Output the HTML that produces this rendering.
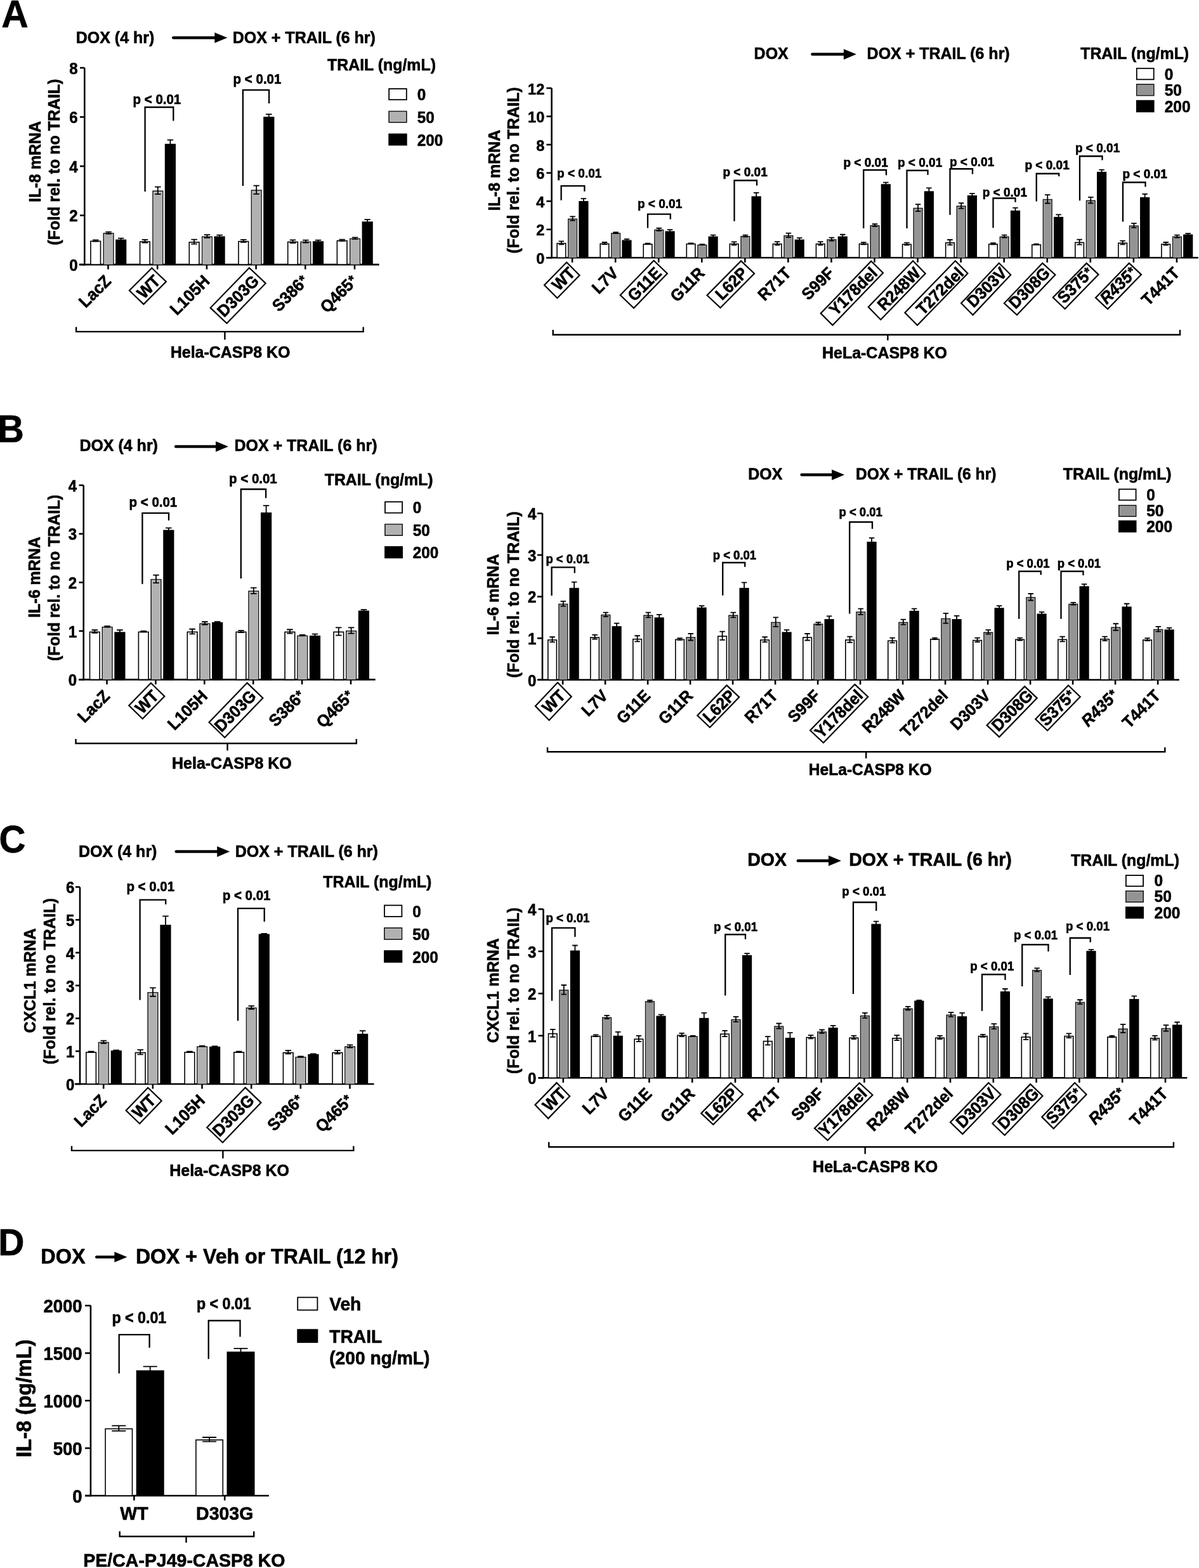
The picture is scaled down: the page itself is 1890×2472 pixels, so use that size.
<!DOCTYPE html><html><head><meta charset="utf-8"><title>Figure</title><style>html,body{margin:0;padding:0;background:#fff;}svg{display:block;}text{font-family:"Liberation Sans",Arial,Helvetica,sans-serif;font-weight:bold;fill:#000;stroke:#000;stroke-width:0.6px;stroke-linejoin:round;}</style></head><body>
<svg width="1890" height="2472" viewBox="0 0 1890 2472">
<rect x="0" y="0" width="1890" height="2472" fill="#fff"/>
<text transform="translate(2.20,43.20) scale(1,1.045)" font-size="59" text-anchor="start">A</text>
<text transform="translate(-4.00,697.00) scale(1,1.045)" font-size="58" text-anchor="start">B</text>
<text transform="translate(-1.50,1344.00) scale(1,1.045)" font-size="58" text-anchor="start">C</text>
<text transform="translate(-2.80,1979.30) scale(1,1.045)" font-size="57" text-anchor="start">D</text>
<line x1="133.30" y1="107.00" x2="133.30" y2="418.40" stroke="#000" stroke-width="2.6" stroke-linecap="butt"/>
<line x1="126.00" y1="417.10" x2="133.30" y2="417.10" stroke="#000" stroke-width="2.6" stroke-linecap="butt"/>
<text transform="translate(122.50,426.94) scale(1,1.045)" font-size="24" text-anchor="end">0</text>
<line x1="126.00" y1="339.56" x2="133.30" y2="339.56" stroke="#000" stroke-width="2.6" stroke-linecap="butt"/>
<text transform="translate(122.50,349.40) scale(1,1.045)" font-size="24" text-anchor="end">2</text>
<line x1="126.00" y1="262.02" x2="133.30" y2="262.02" stroke="#000" stroke-width="2.6" stroke-linecap="butt"/>
<text transform="translate(122.50,271.86) scale(1,1.045)" font-size="24" text-anchor="end">4</text>
<line x1="126.00" y1="184.48" x2="133.30" y2="184.48" stroke="#000" stroke-width="2.6" stroke-linecap="butt"/>
<text transform="translate(122.50,194.32) scale(1,1.045)" font-size="24" text-anchor="end">6</text>
<line x1="126.00" y1="106.94" x2="133.30" y2="106.94" stroke="#000" stroke-width="2.6" stroke-linecap="butt"/>
<text transform="translate(122.50,116.78) scale(1,1.045)" font-size="24" text-anchor="end">8</text>
<line x1="124.80" y1="417.10" x2="597.60" y2="417.10" stroke="#000" stroke-width="2.6" stroke-linecap="butt"/>
<line x1="170.50" y1="417.10" x2="170.50" y2="424.60" stroke="#000" stroke-width="2.6" stroke-linecap="butt"/>
<line x1="248.20" y1="417.10" x2="248.20" y2="424.60" stroke="#000" stroke-width="2.6" stroke-linecap="butt"/>
<line x1="325.90" y1="417.10" x2="325.90" y2="424.60" stroke="#000" stroke-width="2.6" stroke-linecap="butt"/>
<line x1="403.60" y1="417.10" x2="403.60" y2="424.60" stroke="#000" stroke-width="2.6" stroke-linecap="butt"/>
<line x1="481.30" y1="417.10" x2="481.30" y2="424.60" stroke="#000" stroke-width="2.6" stroke-linecap="butt"/>
<line x1="559.00" y1="417.10" x2="559.00" y2="424.60" stroke="#000" stroke-width="2.6" stroke-linecap="butt"/>
<rect x="142.90" y="380.29" width="15.60" height="36.81" fill="#fff" stroke="#000" stroke-width="1.6"/>
<path d="M150.70,378.33V380.66M145.95,378.33H155.45M145.95,380.66H155.45" stroke="#000" stroke-width="1.8" fill="none"/>
<rect x="163.30" y="367.89" width="15.60" height="49.21" fill="#b1b1b1" stroke="#1c1c1c" stroke-width="1.6"/>
<rect x="164.55" y="369.14" width="13.10" height="46.91" fill="none" stroke="#c2c2c2" stroke-width="0.9"/>
<path d="M171.10,365.54V368.64M166.35,365.54H175.85M166.35,368.64H175.85" stroke="#000" stroke-width="1.8" fill="none"/>
<rect x="182.90" y="378.35" width="15.60" height="38.75" fill="#000" stroke="#000" stroke-width="1.6"/>
<path d="M190.70,375.62V379.49M185.95,375.62H195.45M185.95,379.49H195.45" stroke="#000" stroke-width="1.8" fill="none"/>
<rect x="220.60" y="381.07" width="15.60" height="36.03" fill="#fff" stroke="#000" stroke-width="1.6"/>
<path d="M228.40,377.94V382.59M223.65,377.94H233.15M223.65,382.59H233.15" stroke="#000" stroke-width="1.8" fill="none"/>
<rect x="241.00" y="301.20" width="15.60" height="115.90" fill="#b1b1b1" stroke="#1c1c1c" stroke-width="1.6"/>
<rect x="242.25" y="302.45" width="13.10" height="113.60" fill="none" stroke="#c2c2c2" stroke-width="0.9"/>
<path d="M248.80,294.59V306.22M244.05,294.59H253.55M244.05,306.22H253.55" stroke="#000" stroke-width="1.8" fill="none"/>
<rect x="260.60" y="227.54" width="15.60" height="189.56" fill="#000" stroke="#000" stroke-width="1.6"/>
<path d="M268.40,220.54V232.94M263.65,220.54H273.15M263.65,232.94H273.15" stroke="#000" stroke-width="1.8" fill="none"/>
<rect x="298.30" y="381.84" width="15.60" height="35.26" fill="#fff" stroke="#000" stroke-width="1.6"/>
<path d="M306.10,377.55V384.53M301.35,377.55H310.85M301.35,384.53H310.85" stroke="#000" stroke-width="1.8" fill="none"/>
<rect x="318.70" y="373.31" width="15.60" height="43.79" fill="#b1b1b1" stroke="#1c1c1c" stroke-width="1.6"/>
<rect x="319.95" y="374.56" width="13.10" height="41.49" fill="none" stroke="#c2c2c2" stroke-width="0.9"/>
<path d="M326.50,370.19V374.84M321.75,370.19H331.25M321.75,374.84H331.25" stroke="#000" stroke-width="1.8" fill="none"/>
<rect x="338.30" y="373.31" width="15.60" height="43.79" fill="#000" stroke="#000" stroke-width="1.6"/>
<path d="M346.10,370.58V374.45M341.35,370.58H350.85M341.35,374.45H350.85" stroke="#000" stroke-width="1.8" fill="none"/>
<rect x="376.00" y="380.68" width="15.60" height="36.42" fill="#fff" stroke="#000" stroke-width="1.6"/>
<path d="M383.80,377.94V381.82M379.05,377.94H388.55M379.05,381.82H388.55" stroke="#000" stroke-width="1.8" fill="none"/>
<rect x="396.40" y="300.04" width="15.60" height="117.06" fill="#b1b1b1" stroke="#1c1c1c" stroke-width="1.6"/>
<rect x="397.65" y="301.29" width="13.10" height="114.76" fill="none" stroke="#c2c2c2" stroke-width="0.9"/>
<path d="M404.20,292.65V305.83M399.45,292.65H408.95M399.45,305.83H408.95" stroke="#000" stroke-width="1.8" fill="none"/>
<rect x="416.00" y="184.89" width="15.60" height="232.21" fill="#000" stroke="#000" stroke-width="1.6"/>
<path d="M423.80,180.22V187.97M419.05,180.22H428.55M419.05,187.97H428.55" stroke="#000" stroke-width="1.8" fill="none"/>
<rect x="453.70" y="381.46" width="15.60" height="35.64" fill="#fff" stroke="#000" stroke-width="1.6"/>
<path d="M461.50,378.33V382.98M456.75,378.33H466.25M456.75,382.98H466.25" stroke="#000" stroke-width="1.8" fill="none"/>
<rect x="474.10" y="381.46" width="15.60" height="35.64" fill="#b1b1b1" stroke="#1c1c1c" stroke-width="1.6"/>
<rect x="475.35" y="382.71" width="13.10" height="33.34" fill="none" stroke="#c2c2c2" stroke-width="0.9"/>
<path d="M481.90,378.72V382.59M477.15,378.72H486.65M477.15,382.59H486.65" stroke="#000" stroke-width="1.8" fill="none"/>
<rect x="493.70" y="381.07" width="15.60" height="36.03" fill="#000" stroke="#000" stroke-width="1.6"/>
<path d="M501.50,378.72V381.82M496.75,378.72H506.25M496.75,381.82H506.25" stroke="#000" stroke-width="1.8" fill="none"/>
<rect x="531.40" y="379.52" width="15.60" height="37.58" fill="#fff" stroke="#000" stroke-width="1.6"/>
<path d="M539.20,377.55V379.88M534.45,377.55H543.95M534.45,379.88H543.95" stroke="#000" stroke-width="1.8" fill="none"/>
<rect x="551.80" y="376.42" width="15.60" height="40.68" fill="#b1b1b1" stroke="#1c1c1c" stroke-width="1.6"/>
<rect x="553.05" y="377.67" width="13.10" height="38.38" fill="none" stroke="#c2c2c2" stroke-width="0.9"/>
<path d="M559.60,374.45V376.78M554.85,374.45H564.35M554.85,376.78H564.35" stroke="#000" stroke-width="1.8" fill="none"/>
<rect x="571.40" y="350.05" width="15.60" height="67.05" fill="#000" stroke="#000" stroke-width="1.6"/>
<path d="M579.20,346.15V352.35M574.45,346.15H583.95M574.45,352.35H583.95" stroke="#000" stroke-width="1.8" fill="none"/>
<g transform="translate(170.00,438.10) rotate(-45)">
<text transform="translate(0,9.48) scale(1,1.045)" font-size="25.2" text-anchor="end">LacZ</text>
</g>
<g transform="translate(247.70,438.10) rotate(-45)">
<text transform="translate(0,9.48) scale(1,1.045)" font-size="25.2" text-anchor="end">WT</text>
</g>
<g transform="translate(325.40,438.10) rotate(-45)">
<text transform="translate(0,9.48) scale(1,1.045)" font-size="25.2" text-anchor="end">L105H</text>
</g>
<g transform="translate(403.10,438.10) rotate(-45)">
<text transform="translate(0,9.48) scale(1,1.045)" font-size="25.2" text-anchor="end">D303G</text>
</g>
<g transform="translate(480.80,438.10) rotate(-45)">
<text transform="translate(0,9.48) scale(1,1.045)" font-size="25.2" text-anchor="end">S386<tspan dx="0.8" dy="-2.5" font-size="20.66">*</tspan></text>
</g>
<g transform="translate(558.50,438.10) rotate(-45)">
<text transform="translate(0,9.48) scale(1,1.045)" font-size="25.2" text-anchor="end">Q465<tspan dx="0.8" dy="-2.5" font-size="20.66">*</tspan></text>
</g>
<polygon points="239.30,422.49 261.81,444.03 226.40,479.61 203.89,458.07" fill="none" stroke="#000" stroke-width="2.2" stroke-linejoin="miter"/>
<polygon points="392.91,422.30 418.72,446.65 357.49,509.70 331.68,485.35" fill="none" stroke="#000" stroke-width="2.2" stroke-linejoin="miter"/>
<polyline points="228.60,301.90 228.60,169.00 273.30,169.00 273.30,190.50" fill="none" stroke="#000" stroke-width="2.3" stroke-linejoin="miter"/>
<text transform="translate(209.50,164.30) scale(1,1.09)" font-size="20.5" text-anchor="start">p &lt; 0.01</text>
<polyline points="382.90,293.00 382.90,141.90 424.10,141.90 424.10,163.00" fill="none" stroke="#000" stroke-width="2.3" stroke-linejoin="miter"/>
<text transform="translate(367.60,132.30) scale(1,1.09)" font-size="20.5" text-anchor="start">p &lt; 0.01</text>
<text transform="translate(516.00,111.40) scale(1,1.045)" font-size="24.9" text-anchor="start">TRAIL (ng/mL)</text>
<rect x="613.20" y="140.00" width="27.60" height="17.20" fill="#fff" stroke="#000" stroke-width="1.8"/>
<text transform="translate(657.70,157.90) scale(1,1.045)" font-size="24.3" text-anchor="start">0</text>
<rect x="613.20" y="175.60" width="27.60" height="17.20" fill="#b1b1b1" stroke="#1c1c1c" stroke-width="1.8"/>
<rect x="614.60" y="177.00" width="24.80" height="14.40" fill="none" stroke="#c2c2c2" stroke-width="1"/>
<text transform="translate(657.70,194.30) scale(1,1.045)" font-size="24.3" text-anchor="start">50</text>
<rect x="613.20" y="211.40" width="27.60" height="17.20" fill="#000" stroke="#000" stroke-width="1.8"/>
<text transform="translate(657.70,230.20) scale(1,1.045)" font-size="24.3" text-anchor="start">200</text>
<text transform="translate(64.20,254.80) rotate(-90) scale(1,1.045)" font-size="25" text-anchor="middle">IL-8 mRNA</text>
<text transform="translate(94.10,255.50) rotate(-90) scale(1,1.045)" font-size="25" text-anchor="middle">(Fold rel. to no TRAIL)</text>
<text transform="translate(119.80,68.30) scale(1,1.045)" font-size="25" text-anchor="start">DOX (4 hr)</text>
<line x1="273.25" y1="59.50" x2="339.30" y2="59.50" stroke="#000" stroke-width="4.5" stroke-linecap="round"/>
<polygon points="338.30,51.20 358.30,59.50 338.30,67.80" fill="#000"/>
<text transform="translate(366.80,68.30) scale(1,1.045)" font-size="25" text-anchor="start">DOX + TRAIL (6 hr)</text>
<polyline points="120.10,515.50 120.10,522.90 572.70,522.90 572.70,515.50" fill="none" stroke="#000" stroke-width="2.4" stroke-linejoin="miter"/>
<line x1="354.40" y1="522.90" x2="354.40" y2="535.50" stroke="#000" stroke-width="2.4" stroke-linecap="butt"/>
<text transform="translate(363.10,564.00) scale(1,1.045)" font-size="25" text-anchor="middle">Hela-CASP8 KO</text>
<line x1="869.60" y1="138.90" x2="869.60" y2="407.60" stroke="#000" stroke-width="2.6" stroke-linecap="butt"/>
<line x1="861.40" y1="406.30" x2="869.60" y2="406.30" stroke="#000" stroke-width="2.6" stroke-linecap="butt"/>
<text transform="translate(858.20,415.96) scale(1,1.045)" font-size="23.5" text-anchor="end">0</text>
<line x1="861.40" y1="361.74" x2="869.60" y2="361.74" stroke="#000" stroke-width="2.6" stroke-linecap="butt"/>
<text transform="translate(858.20,371.40) scale(1,1.045)" font-size="23.5" text-anchor="end">2</text>
<line x1="861.40" y1="317.18" x2="869.60" y2="317.18" stroke="#000" stroke-width="2.6" stroke-linecap="butt"/>
<text transform="translate(858.20,326.84) scale(1,1.045)" font-size="23.5" text-anchor="end">4</text>
<line x1="861.40" y1="272.62" x2="869.60" y2="272.62" stroke="#000" stroke-width="2.6" stroke-linecap="butt"/>
<text transform="translate(858.20,282.28) scale(1,1.045)" font-size="23.5" text-anchor="end">6</text>
<line x1="861.40" y1="228.06" x2="869.60" y2="228.06" stroke="#000" stroke-width="2.6" stroke-linecap="butt"/>
<text transform="translate(858.20,237.72) scale(1,1.045)" font-size="23.5" text-anchor="end">8</text>
<line x1="861.40" y1="183.50" x2="869.60" y2="183.50" stroke="#000" stroke-width="2.6" stroke-linecap="butt"/>
<text transform="translate(858.20,193.16) scale(1,1.045)" font-size="23.5" text-anchor="end">10</text>
<line x1="861.40" y1="138.94" x2="869.60" y2="138.94" stroke="#000" stroke-width="2.6" stroke-linecap="butt"/>
<text transform="translate(858.20,148.60) scale(1,1.045)" font-size="23.5" text-anchor="end">12</text>
<line x1="861.00" y1="406.30" x2="1888.80" y2="406.30" stroke="#000" stroke-width="2.6" stroke-linecap="butt"/>
<line x1="902.10" y1="406.30" x2="902.10" y2="413.80" stroke="#000" stroke-width="2.6" stroke-linecap="butt"/>
<line x1="970.16" y1="406.30" x2="970.16" y2="413.80" stroke="#000" stroke-width="2.6" stroke-linecap="butt"/>
<line x1="1038.22" y1="406.30" x2="1038.22" y2="413.80" stroke="#000" stroke-width="2.6" stroke-linecap="butt"/>
<line x1="1106.28" y1="406.30" x2="1106.28" y2="413.80" stroke="#000" stroke-width="2.6" stroke-linecap="butt"/>
<line x1="1174.34" y1="406.30" x2="1174.34" y2="413.80" stroke="#000" stroke-width="2.6" stroke-linecap="butt"/>
<line x1="1242.40" y1="406.30" x2="1242.40" y2="413.80" stroke="#000" stroke-width="2.6" stroke-linecap="butt"/>
<line x1="1310.46" y1="406.30" x2="1310.46" y2="413.80" stroke="#000" stroke-width="2.6" stroke-linecap="butt"/>
<line x1="1378.52" y1="406.30" x2="1378.52" y2="413.80" stroke="#000" stroke-width="2.6" stroke-linecap="butt"/>
<line x1="1446.58" y1="406.30" x2="1446.58" y2="413.80" stroke="#000" stroke-width="2.6" stroke-linecap="butt"/>
<line x1="1514.64" y1="406.30" x2="1514.64" y2="413.80" stroke="#000" stroke-width="2.6" stroke-linecap="butt"/>
<line x1="1582.70" y1="406.30" x2="1582.70" y2="413.80" stroke="#000" stroke-width="2.6" stroke-linecap="butt"/>
<line x1="1650.76" y1="406.30" x2="1650.76" y2="413.80" stroke="#000" stroke-width="2.6" stroke-linecap="butt"/>
<line x1="1718.82" y1="406.30" x2="1718.82" y2="413.80" stroke="#000" stroke-width="2.6" stroke-linecap="butt"/>
<line x1="1786.88" y1="406.30" x2="1786.88" y2="413.80" stroke="#000" stroke-width="2.6" stroke-linecap="butt"/>
<line x1="1854.94" y1="406.30" x2="1854.94" y2="413.80" stroke="#000" stroke-width="2.6" stroke-linecap="butt"/>
<rect x="878.10" y="383.71" width="13.60" height="22.59" fill="#fff" stroke="#000" stroke-width="1.6"/>
<path d="M884.90,380.46V385.36M880.65,380.46H889.15M880.65,385.36H889.15" stroke="#000" stroke-width="1.8" fill="none"/>
<rect x="895.80" y="345.38" width="13.60" height="60.92" fill="#949494" stroke="#1c1c1c" stroke-width="1.6"/>
<rect x="897.05" y="346.63" width="11.10" height="58.62" fill="none" stroke="#a6a6a6" stroke-width="0.9"/>
<path d="M902.60,341.47V347.70M898.35,341.47H906.85M898.35,347.70H906.85" stroke="#000" stroke-width="1.8" fill="none"/>
<rect x="913.10" y="317.76" width="13.60" height="88.54" fill="#000" stroke="#000" stroke-width="1.6"/>
<path d="M919.90,313.17V320.74M915.65,313.17H924.15M915.65,320.74H924.15" stroke="#000" stroke-width="1.8" fill="none"/>
<rect x="946.16" y="384.37" width="13.60" height="21.93" fill="#fff" stroke="#000" stroke-width="1.6"/>
<path d="M952.96,382.01V385.13M948.71,382.01H957.21M948.71,385.13H957.21" stroke="#000" stroke-width="1.8" fill="none"/>
<rect x="963.86" y="367.89" width="13.60" height="38.41" fill="#949494" stroke="#1c1c1c" stroke-width="1.6"/>
<rect x="965.11" y="369.14" width="11.10" height="36.11" fill="none" stroke="#a6a6a6" stroke-width="0.9"/>
<path d="M970.66,366.20V367.98M966.41,366.20H974.91M966.41,367.98H974.91" stroke="#000" stroke-width="1.8" fill="none"/>
<rect x="981.16" y="379.25" width="13.60" height="27.05" fill="#000" stroke="#000" stroke-width="1.6"/>
<path d="M987.96,376.89V380.01M983.71,376.89H992.21M983.71,380.01H992.21" stroke="#000" stroke-width="1.8" fill="none"/>
<rect x="1014.22" y="385.04" width="13.60" height="21.26" fill="#fff" stroke="#000" stroke-width="1.6"/>
<path d="M1021.02,383.57V384.91M1016.77,383.57H1025.27M1016.77,384.91H1025.27" stroke="#000" stroke-width="1.8" fill="none"/>
<rect x="1031.92" y="362.54" width="13.60" height="43.76" fill="#949494" stroke="#1c1c1c" stroke-width="1.6"/>
<rect x="1033.17" y="363.79" width="11.10" height="41.46" fill="none" stroke="#a6a6a6" stroke-width="0.9"/>
<path d="M1038.72,359.73V363.75M1034.47,359.73H1042.97M1034.47,363.75H1042.97" stroke="#000" stroke-width="1.8" fill="none"/>
<rect x="1049.22" y="365.21" width="13.60" height="41.09" fill="#000" stroke="#000" stroke-width="1.6"/>
<path d="M1056.02,362.19V366.64M1051.77,362.19H1060.27M1051.77,366.64H1060.27" stroke="#000" stroke-width="1.8" fill="none"/>
<rect x="1082.28" y="384.60" width="13.60" height="21.70" fill="#fff" stroke="#000" stroke-width="1.6"/>
<path d="M1089.08,383.35V384.24M1084.83,383.35H1093.33M1084.83,384.24H1093.33" stroke="#000" stroke-width="1.8" fill="none"/>
<rect x="1099.98" y="386.38" width="13.60" height="19.92" fill="#949494" stroke="#1c1c1c" stroke-width="1.6"/>
<rect x="1101.23" y="387.63" width="11.10" height="17.62" fill="none" stroke="#a6a6a6" stroke-width="0.9"/>
<path d="M1106.78,385.13V386.03M1102.53,385.13H1111.03M1102.53,386.03H1111.03" stroke="#000" stroke-width="1.8" fill="none"/>
<rect x="1117.28" y="373.46" width="13.60" height="32.84" fill="#000" stroke="#000" stroke-width="1.6"/>
<path d="M1124.08,370.65V374.66M1119.83,370.65H1128.33M1119.83,374.66H1128.33" stroke="#000" stroke-width="1.8" fill="none"/>
<rect x="1150.34" y="384.60" width="13.60" height="21.70" fill="#fff" stroke="#000" stroke-width="1.6"/>
<path d="M1157.14,381.35V386.25M1152.89,381.35H1161.39M1152.89,386.25H1161.39" stroke="#000" stroke-width="1.8" fill="none"/>
<rect x="1168.04" y="372.79" width="13.60" height="33.51" fill="#949494" stroke="#1c1c1c" stroke-width="1.6"/>
<rect x="1169.29" y="374.04" width="11.10" height="31.21" fill="none" stroke="#a6a6a6" stroke-width="0.9"/>
<path d="M1174.84,370.65V373.33M1170.59,370.65H1179.09M1170.59,373.33H1179.09" stroke="#000" stroke-width="1.8" fill="none"/>
<rect x="1185.34" y="310.18" width="13.60" height="96.12" fill="#000" stroke="#000" stroke-width="1.6"/>
<path d="M1192.14,303.81V314.95M1187.89,303.81H1196.39M1187.89,314.95H1196.39" stroke="#000" stroke-width="1.8" fill="none"/>
<rect x="1218.40" y="384.60" width="13.60" height="21.70" fill="#fff" stroke="#000" stroke-width="1.6"/>
<path d="M1225.20,381.12V386.47M1220.95,381.12H1229.45M1220.95,386.47H1229.45" stroke="#000" stroke-width="1.8" fill="none"/>
<rect x="1236.10" y="371.67" width="13.60" height="34.63" fill="#949494" stroke="#1c1c1c" stroke-width="1.6"/>
<rect x="1237.35" y="372.92" width="11.10" height="32.33" fill="none" stroke="#a6a6a6" stroke-width="0.9"/>
<path d="M1242.90,367.53V374.22M1238.65,367.53H1247.15M1238.65,374.22H1247.15" stroke="#000" stroke-width="1.8" fill="none"/>
<rect x="1253.40" y="378.36" width="13.60" height="27.94" fill="#000" stroke="#000" stroke-width="1.6"/>
<path d="M1260.20,375.11V380.01M1255.95,375.11H1264.45M1255.95,380.01H1264.45" stroke="#000" stroke-width="1.8" fill="none"/>
<rect x="1286.46" y="384.60" width="13.60" height="21.70" fill="#fff" stroke="#000" stroke-width="1.6"/>
<path d="M1293.26,381.12V386.47M1289.01,381.12H1297.51M1289.01,386.47H1297.51" stroke="#000" stroke-width="1.8" fill="none"/>
<rect x="1304.16" y="377.91" width="13.60" height="28.39" fill="#949494" stroke="#1c1c1c" stroke-width="1.6"/>
<rect x="1305.41" y="379.16" width="11.10" height="26.09" fill="none" stroke="#a6a6a6" stroke-width="0.9"/>
<path d="M1310.96,374.66V379.56M1306.71,374.66H1315.21M1306.71,379.56H1315.21" stroke="#000" stroke-width="1.8" fill="none"/>
<rect x="1321.46" y="373.46" width="13.60" height="32.84" fill="#000" stroke="#000" stroke-width="1.6"/>
<path d="M1328.26,369.76V375.55M1324.01,369.76H1332.51M1324.01,375.55H1332.51" stroke="#000" stroke-width="1.8" fill="none"/>
<rect x="1354.52" y="384.60" width="13.60" height="21.70" fill="#fff" stroke="#000" stroke-width="1.6"/>
<path d="M1361.32,382.24V385.36M1357.07,382.24H1365.57M1357.07,385.36H1365.57" stroke="#000" stroke-width="1.8" fill="none"/>
<rect x="1372.22" y="355.86" width="13.60" height="50.44" fill="#949494" stroke="#1c1c1c" stroke-width="1.6"/>
<rect x="1373.47" y="357.11" width="11.10" height="48.14" fill="none" stroke="#a6a6a6" stroke-width="0.9"/>
<path d="M1379.02,353.27V356.84M1374.77,353.27H1383.27M1374.77,356.84H1383.27" stroke="#000" stroke-width="1.8" fill="none"/>
<rect x="1389.52" y="291.02" width="13.60" height="115.28" fill="#000" stroke="#000" stroke-width="1.6"/>
<path d="M1396.32,287.55V292.89M1392.07,287.55H1400.57M1392.07,292.89H1400.57" stroke="#000" stroke-width="1.8" fill="none"/>
<rect x="1422.58" y="385.27" width="13.60" height="21.03" fill="#fff" stroke="#000" stroke-width="1.6"/>
<path d="M1429.38,382.68V386.25M1425.13,382.68H1433.63M1425.13,386.25H1433.63" stroke="#000" stroke-width="1.8" fill="none"/>
<rect x="1440.28" y="328.45" width="13.60" height="77.85" fill="#949494" stroke="#1c1c1c" stroke-width="1.6"/>
<rect x="1441.53" y="329.70" width="11.10" height="75.55" fill="none" stroke="#a6a6a6" stroke-width="0.9"/>
<path d="M1447.08,322.08V333.22M1442.83,322.08H1451.33M1442.83,333.22H1451.33" stroke="#000" stroke-width="1.8" fill="none"/>
<rect x="1457.58" y="302.16" width="13.60" height="104.14" fill="#000" stroke="#000" stroke-width="1.6"/>
<path d="M1464.38,296.46V306.26M1460.13,296.46H1468.63M1460.13,306.26H1468.63" stroke="#000" stroke-width="1.8" fill="none"/>
<rect x="1490.64" y="382.81" width="13.60" height="23.49" fill="#fff" stroke="#000" stroke-width="1.6"/>
<path d="M1497.44,378.00V386.03M1493.19,378.00H1501.69M1493.19,386.03H1501.69" stroke="#000" stroke-width="1.8" fill="none"/>
<rect x="1508.34" y="325.11" width="13.60" height="81.19" fill="#949494" stroke="#1c1c1c" stroke-width="1.6"/>
<rect x="1509.59" y="326.36" width="11.10" height="78.89" fill="none" stroke="#a6a6a6" stroke-width="0.9"/>
<path d="M1515.14,320.08V328.54M1510.89,320.08H1519.39M1510.89,328.54H1519.39" stroke="#000" stroke-width="1.8" fill="none"/>
<rect x="1525.64" y="308.85" width="13.60" height="97.45" fill="#000" stroke="#000" stroke-width="1.6"/>
<path d="M1532.44,305.15V310.94M1528.19,305.15H1536.69M1528.19,310.94H1536.69" stroke="#000" stroke-width="1.8" fill="none"/>
<rect x="1558.70" y="385.04" width="13.60" height="21.26" fill="#fff" stroke="#000" stroke-width="1.6"/>
<path d="M1565.50,383.13V385.36M1561.25,383.13H1569.75M1561.25,385.36H1569.75" stroke="#000" stroke-width="1.8" fill="none"/>
<rect x="1576.40" y="373.46" width="13.60" height="32.84" fill="#949494" stroke="#1c1c1c" stroke-width="1.6"/>
<rect x="1577.65" y="374.71" width="11.10" height="30.54" fill="none" stroke="#a6a6a6" stroke-width="0.9"/>
<path d="M1583.20,370.65V374.66M1578.95,370.65H1587.45M1578.95,374.66H1587.45" stroke="#000" stroke-width="1.8" fill="none"/>
<rect x="1593.70" y="332.68" width="13.60" height="73.62" fill="#000" stroke="#000" stroke-width="1.6"/>
<path d="M1600.50,327.65V336.12M1596.25,327.65H1604.75M1596.25,336.12H1604.75" stroke="#000" stroke-width="1.8" fill="none"/>
<rect x="1626.76" y="385.93" width="13.60" height="20.37" fill="#fff" stroke="#000" stroke-width="1.6"/>
<path d="M1633.56,384.69V385.58M1629.31,384.69H1637.81M1629.31,385.58H1637.81" stroke="#000" stroke-width="1.8" fill="none"/>
<rect x="1644.46" y="314.64" width="13.60" height="91.66" fill="#949494" stroke="#1c1c1c" stroke-width="1.6"/>
<rect x="1645.71" y="315.89" width="11.10" height="89.36" fill="none" stroke="#a6a6a6" stroke-width="0.9"/>
<path d="M1651.26,307.15V320.52M1647.01,307.15H1655.51M1647.01,320.52H1655.51" stroke="#000" stroke-width="1.8" fill="none"/>
<rect x="1661.76" y="342.71" width="13.60" height="63.59" fill="#000" stroke="#000" stroke-width="1.6"/>
<path d="M1668.56,338.35V345.48M1664.31,338.35H1672.81M1664.31,345.48H1672.81" stroke="#000" stroke-width="1.8" fill="none"/>
<rect x="1694.82" y="382.37" width="13.60" height="23.93" fill="#fff" stroke="#000" stroke-width="1.6"/>
<path d="M1701.62,377.56V385.58M1697.37,377.56H1705.87M1697.37,385.58H1705.87" stroke="#000" stroke-width="1.8" fill="none"/>
<rect x="1712.52" y="316.42" width="13.60" height="89.88" fill="#949494" stroke="#1c1c1c" stroke-width="1.6"/>
<rect x="1713.77" y="317.67" width="11.10" height="87.58" fill="none" stroke="#a6a6a6" stroke-width="0.9"/>
<path d="M1719.32,310.94V320.30M1715.07,310.94H1723.57M1715.07,320.30H1723.57" stroke="#000" stroke-width="1.8" fill="none"/>
<rect x="1729.82" y="271.64" width="13.60" height="134.66" fill="#000" stroke="#000" stroke-width="1.6"/>
<path d="M1736.62,267.72V273.96M1732.37,267.72H1740.87M1732.37,273.96H1740.87" stroke="#000" stroke-width="1.8" fill="none"/>
<rect x="1762.88" y="383.26" width="13.60" height="23.04" fill="#fff" stroke="#000" stroke-width="1.6"/>
<path d="M1769.68,379.56V385.36M1765.43,379.56H1773.93M1765.43,385.36H1773.93" stroke="#000" stroke-width="1.8" fill="none"/>
<rect x="1780.58" y="356.30" width="13.60" height="50.00" fill="#949494" stroke="#1c1c1c" stroke-width="1.6"/>
<rect x="1781.83" y="357.55" width="11.10" height="47.70" fill="none" stroke="#a6a6a6" stroke-width="0.9"/>
<path d="M1787.38,352.16V358.84M1783.13,352.16H1791.63M1783.13,358.84H1791.63" stroke="#000" stroke-width="1.8" fill="none"/>
<rect x="1797.88" y="311.74" width="13.60" height="94.56" fill="#000" stroke="#000" stroke-width="1.6"/>
<path d="M1804.68,305.82V316.07M1800.43,305.82H1808.93M1800.43,316.07H1808.93" stroke="#000" stroke-width="1.8" fill="none"/>
<rect x="1830.94" y="385.04" width="13.60" height="21.26" fill="#fff" stroke="#000" stroke-width="1.6"/>
<path d="M1837.74,382.01V386.47M1833.49,382.01H1841.99M1833.49,386.47H1841.99" stroke="#000" stroke-width="1.8" fill="none"/>
<rect x="1848.64" y="373.46" width="13.60" height="32.84" fill="#949494" stroke="#1c1c1c" stroke-width="1.6"/>
<rect x="1849.89" y="374.71" width="11.10" height="30.54" fill="none" stroke="#a6a6a6" stroke-width="0.9"/>
<path d="M1855.44,370.65V374.66M1851.19,370.65H1859.69M1851.19,374.66H1859.69" stroke="#000" stroke-width="1.8" fill="none"/>
<rect x="1865.94" y="370.34" width="13.60" height="35.96" fill="#000" stroke="#000" stroke-width="1.6"/>
<path d="M1872.74,368.20V370.87M1868.49,368.20H1876.99M1868.49,370.87H1876.99" stroke="#000" stroke-width="1.8" fill="none"/>
<g transform="translate(901.50,425.60) rotate(-45)">
<text transform="translate(0,9.40) scale(1,1.045)" font-size="25" text-anchor="end">WT</text>
</g>
<g transform="translate(969.56,425.60) rotate(-45)">
<text transform="translate(0,9.40) scale(1,1.045)" font-size="25" text-anchor="end">L7V</text>
</g>
<g transform="translate(1037.62,425.60) rotate(-45)">
<text transform="translate(0,9.40) scale(1,1.045)" font-size="25" text-anchor="end">G11E</text>
</g>
<g transform="translate(1105.68,425.60) rotate(-45)">
<text transform="translate(0,9.40) scale(1,1.045)" font-size="25" text-anchor="end">G11R</text>
</g>
<g transform="translate(1173.74,425.60) rotate(-45)">
<text transform="translate(0,9.40) scale(1,1.045)" font-size="25" text-anchor="end">L62P</text>
</g>
<g transform="translate(1241.80,425.60) rotate(-45)">
<text transform="translate(0,9.40) scale(1,1.045)" font-size="25" text-anchor="end">R71T</text>
</g>
<g transform="translate(1309.86,425.60) rotate(-45)">
<text transform="translate(0,9.40) scale(1,1.045)" font-size="25" text-anchor="end">S99F</text>
</g>
<g transform="translate(1377.92,425.60) rotate(-45)">
<text transform="translate(0,9.40) scale(1,1.045)" font-size="25" text-anchor="end">Y178del</text>
</g>
<g transform="translate(1445.98,425.60) rotate(-45)">
<text transform="translate(0,9.40) scale(1,1.045)" font-size="25" text-anchor="end">R248W</text>
</g>
<g transform="translate(1514.04,425.60) rotate(-45)">
<text transform="translate(0,9.40) scale(1,1.045)" font-size="25" text-anchor="end">T272del</text>
</g>
<g transform="translate(1582.10,425.60) rotate(-45)">
<text transform="translate(0,9.40) scale(1,1.045)" font-size="25" text-anchor="end">D303V</text>
</g>
<g transform="translate(1650.16,425.60) rotate(-45)">
<text transform="translate(0,9.40) scale(1,1.045)" font-size="25" text-anchor="end">D308G</text>
</g>
<g transform="translate(1718.22,425.60) rotate(-45)">
<text transform="translate(0,9.40) scale(1,1.045)" font-size="25" text-anchor="end">S375<tspan dx="0.8" dy="-2.5" font-size="20.50">*</tspan></text>
</g>
<g transform="translate(1786.28,425.60) rotate(-45)">
<text transform="translate(0,9.40) scale(1,1.045)" font-size="25" text-anchor="end" font-style="italic">R435<tspan dx="0.8" dy="-2.5" font-size="20.50">*</tspan></text>
</g>
<g transform="translate(1854.34,425.60) rotate(-45)">
<text transform="translate(0,9.40) scale(1,1.045)" font-size="25" text-anchor="end">T441T</text>
</g>
<polygon points="893.14,413.48 913.53,433.90 878.46,470.02 858.07,449.60" fill="none" stroke="#000" stroke-width="2.2" stroke-linejoin="miter"/>
<polygon points="1030.59,410.79 1051.83,431.17 999.01,485.71 977.77,465.33" fill="none" stroke="#000" stroke-width="2.2" stroke-linejoin="miter"/>
<polygon points="1168.06,411.38 1189.03,431.17 1135.54,485.32 1114.57,465.53" fill="none" stroke="#000" stroke-width="2.2" stroke-linejoin="miter"/>
<polygon points="1373.25,411.68 1391.96,430.30 1312.45,512.72 1293.74,494.10" fill="none" stroke="#000" stroke-width="2.2" stroke-linejoin="miter"/>
<polygon points="1439.12,411.31 1458.61,431.33 1388.28,503.99 1368.79,483.97" fill="none" stroke="#000" stroke-width="2.2" stroke-linejoin="miter"/>
<polygon points="1505.87,411.28 1525.44,430.98 1446.03,512.72 1426.46,493.02" fill="none" stroke="#000" stroke-width="2.2" stroke-linejoin="miter"/>
<polygon points="1574.77,414.84 1593.21,433.31 1533.53,496.56 1515.09,478.09" fill="none" stroke="#000" stroke-width="2.2" stroke-linejoin="miter"/>
<polygon points="1643.29,414.85 1663.39,433.29 1603.01,496.55 1582.91,478.11" fill="none" stroke="#000" stroke-width="2.2" stroke-linejoin="miter"/>
<polygon points="1712.72,414.86 1731.56,432.83 1678.68,486.94 1659.84,468.97" fill="none" stroke="#000" stroke-width="2.2" stroke-linejoin="miter"/>
<polygon points="1779.92,414.87 1798.96,432.83 1746.08,487.33 1727.04,469.37" fill="none" stroke="#000" stroke-width="2.2" stroke-linejoin="miter"/>
<polyline points="884.60,315.70 884.60,293.20 921.40,293.20 921.40,301.80" fill="none" stroke="#000" stroke-width="2.3" stroke-linejoin="miter"/>
<text transform="translate(878.10,280.10) scale(1,1.09)" font-size="19" text-anchor="start">p &lt; 0.01</text>
<polyline points="1021.00,359.60 1021.00,337.60 1056.80,337.60 1056.80,345.70" fill="none" stroke="#000" stroke-width="2.3" stroke-linejoin="miter"/>
<text transform="translate(1005.00,328.30) scale(1,1.09)" font-size="19" text-anchor="start">p &lt; 0.01</text>
<polyline points="1157.50,348.75 1157.50,284.50 1193.00,284.50 1193.00,292.50" fill="none" stroke="#000" stroke-width="2.3" stroke-linejoin="miter"/>
<text transform="translate(1139.50,277.80) scale(1,1.09)" font-size="19" text-anchor="start">p &lt; 0.01</text>
<polyline points="1361.25,360.00 1361.25,268.00 1397.00,268.00 1397.00,276.25" fill="none" stroke="#000" stroke-width="2.3" stroke-linejoin="miter"/>
<text transform="translate(1329.50,262.80) scale(1,1.09)" font-size="19" text-anchor="start">p &lt; 0.01</text>
<polyline points="1429.50,360.00 1429.50,268.75 1462.50,268.75 1462.50,275.75" fill="none" stroke="#000" stroke-width="2.3" stroke-linejoin="miter"/>
<text transform="translate(1415.00,262.80) scale(1,1.09)" font-size="19" text-anchor="start">p &lt; 0.01</text>
<polyline points="1497.50,338.75 1497.50,266.25 1533.00,266.25 1533.00,274.50" fill="none" stroke="#000" stroke-width="2.3" stroke-linejoin="miter"/>
<text transform="translate(1497.00,261.55) scale(1,1.09)" font-size="19" text-anchor="start">p &lt; 0.01</text>
<polyline points="1565.50,359.25 1565.50,312.50 1600.50,312.50 1600.50,318.75" fill="none" stroke="#000" stroke-width="2.3" stroke-linejoin="miter"/>
<text transform="translate(1548.75,310.05) scale(1,1.09)" font-size="19" text-anchor="start">p &lt; 0.01</text>
<polyline points="1633.75,317.50 1633.75,273.75 1669.25,273.75 1669.25,278.00" fill="none" stroke="#000" stroke-width="2.3" stroke-linejoin="miter"/>
<text transform="translate(1615.50,267.05) scale(1,1.09)" font-size="19" text-anchor="start">p &lt; 0.01</text>
<polyline points="1702.00,316.25 1702.00,246.25 1737.50,246.25 1737.50,252.50" fill="none" stroke="#000" stroke-width="2.3" stroke-linejoin="miter"/>
<text transform="translate(1695.00,239.55) scale(1,1.09)" font-size="19" text-anchor="start">p &lt; 0.01</text>
<polyline points="1770.00,349.50 1770.00,287.50 1805.50,287.50 1805.50,294.50" fill="none" stroke="#000" stroke-width="2.3" stroke-linejoin="miter"/>
<text transform="translate(1769.50,280.80) scale(1,1.09)" font-size="19" text-anchor="start">p &lt; 0.01</text>
<text transform="translate(1703.20,92.60) scale(1,1.045)" font-size="24.9" text-anchor="start">TRAIL (ng/mL)</text>
<rect x="1791.80" y="107.80" width="26.90" height="17.50" fill="#fff" stroke="#000" stroke-width="1.8"/>
<text transform="translate(1835.70,125.60) scale(1,1.045)" font-size="24.5" text-anchor="start">0</text>
<rect x="1791.80" y="133.00" width="26.90" height="17.50" fill="#949494" stroke="#1c1c1c" stroke-width="1.8"/>
<rect x="1793.20" y="134.40" width="24.10" height="14.70" fill="none" stroke="#a6a6a6" stroke-width="1"/>
<text transform="translate(1835.70,151.20) scale(1,1.045)" font-size="24.5" text-anchor="start">50</text>
<rect x="1791.80" y="158.70" width="26.90" height="17.50" fill="#000" stroke="#000" stroke-width="1.8"/>
<text transform="translate(1835.70,177.20) scale(1,1.045)" font-size="24.5" text-anchor="start">200</text>
<text transform="translate(787.50,268.50) rotate(-90) scale(1,1.045)" font-size="25" text-anchor="middle">IL-8 mRNA</text>
<text transform="translate(818.10,268.50) rotate(-90) scale(1,1.045)" font-size="25" text-anchor="middle">(Fold rel. to no TRAIL)</text>
<text transform="translate(1188.60,92.90) scale(1,1.045)" font-size="25" text-anchor="start">DOX</text>
<line x1="1280.45" y1="85.60" x2="1330.90" y2="85.60" stroke="#000" stroke-width="4.5" stroke-linecap="round"/>
<polygon points="1329.90,77.30 1349.90,85.60 1329.90,93.90" fill="#000"/>
<text transform="translate(1366.60,92.90) scale(1,1.045)" font-size="25" text-anchor="start">DOX + TRAIL (6 hr)</text>
<polyline points="871.70,520.00 871.70,527.70 1860.00,527.70 1860.00,520.00" fill="none" stroke="#000" stroke-width="2.4" stroke-linejoin="miter"/>
<line x1="1399.40" y1="527.70" x2="1399.40" y2="536.60" stroke="#000" stroke-width="2.4" stroke-linecap="butt"/>
<text transform="translate(1394.50,565.20) scale(1,1.045)" font-size="25" text-anchor="middle">HeLa-CASP8 KO</text>
<line x1="131.70" y1="765.00" x2="131.70" y2="1072.70" stroke="#000" stroke-width="2.6" stroke-linecap="butt"/>
<line x1="124.50" y1="1071.40" x2="131.70" y2="1071.40" stroke="#000" stroke-width="2.6" stroke-linecap="butt"/>
<text transform="translate(121.10,1081.24) scale(1,1.045)" font-size="24" text-anchor="end">0</text>
<line x1="124.50" y1="994.80" x2="131.70" y2="994.80" stroke="#000" stroke-width="2.6" stroke-linecap="butt"/>
<text transform="translate(121.10,1004.64) scale(1,1.045)" font-size="24" text-anchor="end">1</text>
<line x1="124.50" y1="918.20" x2="131.70" y2="918.20" stroke="#000" stroke-width="2.6" stroke-linecap="butt"/>
<text transform="translate(121.10,928.04) scale(1,1.045)" font-size="24" text-anchor="end">2</text>
<line x1="124.50" y1="841.60" x2="131.70" y2="841.60" stroke="#000" stroke-width="2.6" stroke-linecap="butt"/>
<text transform="translate(121.10,851.44) scale(1,1.045)" font-size="24" text-anchor="end">3</text>
<line x1="124.50" y1="765.00" x2="131.70" y2="765.00" stroke="#000" stroke-width="2.6" stroke-linecap="butt"/>
<text transform="translate(121.10,774.84) scale(1,1.045)" font-size="24" text-anchor="end">4</text>
<line x1="124.10" y1="1071.40" x2="591.70" y2="1071.40" stroke="#000" stroke-width="2.6" stroke-linecap="butt"/>
<line x1="168.50" y1="1071.40" x2="168.50" y2="1078.90" stroke="#000" stroke-width="2.6" stroke-linecap="butt"/>
<line x1="245.40" y1="1071.40" x2="245.40" y2="1078.90" stroke="#000" stroke-width="2.6" stroke-linecap="butt"/>
<line x1="322.30" y1="1071.40" x2="322.30" y2="1078.90" stroke="#000" stroke-width="2.6" stroke-linecap="butt"/>
<line x1="399.20" y1="1071.40" x2="399.20" y2="1078.90" stroke="#000" stroke-width="2.6" stroke-linecap="butt"/>
<line x1="476.10" y1="1071.40" x2="476.10" y2="1078.90" stroke="#000" stroke-width="2.6" stroke-linecap="butt"/>
<line x1="553.00" y1="1071.40" x2="553.00" y2="1078.90" stroke="#000" stroke-width="2.6" stroke-linecap="butt"/>
<rect x="141.50" y="996.37" width="15.60" height="75.03" fill="#fff" stroke="#000" stroke-width="1.6"/>
<path d="M149.30,993.27V997.86M144.55,993.27H154.05M144.55,997.86H154.05" stroke="#000" stroke-width="1.8" fill="none"/>
<rect x="161.30" y="988.71" width="15.60" height="82.69" fill="#b1b1b1" stroke="#1c1c1c" stroke-width="1.6"/>
<rect x="162.55" y="989.96" width="13.10" height="80.39" fill="none" stroke="#c2c2c2" stroke-width="0.9"/>
<path d="M169.10,987.14V988.67M164.35,987.14H173.85M164.35,988.67H173.85" stroke="#000" stroke-width="1.8" fill="none"/>
<rect x="181.10" y="997.13" width="15.60" height="74.27" fill="#000" stroke="#000" stroke-width="1.6"/>
<path d="M188.90,993.27V999.40M184.15,993.27H193.65M184.15,999.40H193.65" stroke="#000" stroke-width="1.8" fill="none"/>
<rect x="218.40" y="996.37" width="15.60" height="75.03" fill="#fff" stroke="#000" stroke-width="1.6"/>
<path d="M226.20,994.80V996.33M221.45,994.80H230.95M221.45,996.33H230.95" stroke="#000" stroke-width="1.8" fill="none"/>
<rect x="238.20" y="913.64" width="15.60" height="157.76" fill="#b1b1b1" stroke="#1c1c1c" stroke-width="1.6"/>
<rect x="239.45" y="914.89" width="13.10" height="155.46" fill="none" stroke="#c2c2c2" stroke-width="0.9"/>
<path d="M246.00,906.71V918.97M241.25,906.71H250.75M241.25,918.97H250.75" stroke="#000" stroke-width="1.8" fill="none"/>
<rect x="258.00" y="836.27" width="15.60" height="235.13" fill="#000" stroke="#000" stroke-width="1.6"/>
<path d="M265.80,832.41V838.54M261.05,832.41H270.55M261.05,838.54H270.55" stroke="#000" stroke-width="1.8" fill="none"/>
<rect x="295.30" y="996.37" width="15.60" height="75.03" fill="#fff" stroke="#000" stroke-width="1.6"/>
<path d="M303.10,991.74V999.40M298.35,991.74H307.85M298.35,999.40H307.85" stroke="#000" stroke-width="1.8" fill="none"/>
<rect x="315.10" y="983.34" width="15.60" height="88.06" fill="#b1b1b1" stroke="#1c1c1c" stroke-width="1.6"/>
<rect x="316.35" y="984.59" width="13.10" height="85.76" fill="none" stroke="#c2c2c2" stroke-width="0.9"/>
<path d="M322.90,980.25V984.84M318.15,980.25H327.65M318.15,984.84H327.65" stroke="#000" stroke-width="1.8" fill="none"/>
<rect x="334.90" y="981.81" width="15.60" height="89.59" fill="#000" stroke="#000" stroke-width="1.6"/>
<path d="M342.70,980.25V981.78M337.95,980.25H347.45M337.95,981.78H347.45" stroke="#000" stroke-width="1.8" fill="none"/>
<rect x="372.20" y="996.37" width="15.60" height="75.03" fill="#fff" stroke="#000" stroke-width="1.6"/>
<path d="M380.00,994.03V997.10M375.25,994.03H384.75M375.25,997.10H384.75" stroke="#000" stroke-width="1.8" fill="none"/>
<rect x="392.00" y="932.02" width="15.60" height="139.38" fill="#b1b1b1" stroke="#1c1c1c" stroke-width="1.6"/>
<rect x="393.25" y="933.27" width="13.10" height="137.08" fill="none" stroke="#c2c2c2" stroke-width="0.9"/>
<path d="M399.80,926.63V935.82M395.05,926.63H404.55M395.05,935.82H404.55" stroke="#000" stroke-width="1.8" fill="none"/>
<rect x="411.80" y="808.70" width="15.60" height="262.70" fill="#000" stroke="#000" stroke-width="1.6"/>
<path d="M419.60,797.17V818.62M414.85,797.17H424.35M414.85,818.62H424.35" stroke="#000" stroke-width="1.8" fill="none"/>
<rect x="449.10" y="996.37" width="15.60" height="75.03" fill="#fff" stroke="#000" stroke-width="1.6"/>
<path d="M456.90,992.50V998.63M452.15,992.50H461.65M452.15,998.63H461.65" stroke="#000" stroke-width="1.8" fill="none"/>
<rect x="468.90" y="1002.49" width="15.60" height="68.91" fill="#b1b1b1" stroke="#1c1c1c" stroke-width="1.6"/>
<rect x="470.15" y="1003.74" width="13.10" height="66.61" fill="none" stroke="#c2c2c2" stroke-width="0.9"/>
<path d="M476.70,1000.93V1002.46M471.95,1000.93H481.45M471.95,1002.46H481.45" stroke="#000" stroke-width="1.8" fill="none"/>
<rect x="488.70" y="1002.80" width="15.60" height="68.60" fill="#000" stroke="#000" stroke-width="1.6"/>
<path d="M496.50,999.70V1004.30M491.75,999.70H501.25M491.75,1004.30H501.25" stroke="#000" stroke-width="1.8" fill="none"/>
<rect x="526.00" y="996.37" width="15.60" height="75.03" fill="#fff" stroke="#000" stroke-width="1.6"/>
<path d="M533.80,989.44V1001.69M529.05,989.44H538.55M529.05,1001.69H538.55" stroke="#000" stroke-width="1.8" fill="none"/>
<rect x="545.80" y="994.83" width="15.60" height="76.57" fill="#b1b1b1" stroke="#1c1c1c" stroke-width="1.6"/>
<rect x="547.05" y="996.08" width="13.10" height="74.27" fill="none" stroke="#c2c2c2" stroke-width="0.9"/>
<path d="M553.60,989.44V998.63M548.85,989.44H558.35M548.85,998.63H558.35" stroke="#000" stroke-width="1.8" fill="none"/>
<rect x="565.60" y="963.43" width="15.60" height="107.97" fill="#000" stroke="#000" stroke-width="1.6"/>
<path d="M573.40,961.10V964.16M568.65,961.10H578.15M568.65,964.16H578.15" stroke="#000" stroke-width="1.8" fill="none"/>
<g transform="translate(168.00,1092.40) rotate(-45)">
<text transform="translate(0,9.48) scale(1,1.045)" font-size="25.2" text-anchor="end">LacZ</text>
</g>
<g transform="translate(244.90,1092.40) rotate(-45)">
<text transform="translate(0,9.48) scale(1,1.045)" font-size="25.2" text-anchor="end">WT</text>
</g>
<g transform="translate(321.80,1092.40) rotate(-45)">
<text transform="translate(0,9.48) scale(1,1.045)" font-size="25.2" text-anchor="end">L105H</text>
</g>
<g transform="translate(398.70,1092.40) rotate(-45)">
<text transform="translate(0,9.48) scale(1,1.045)" font-size="25.2" text-anchor="end">D303G</text>
</g>
<g transform="translate(475.60,1092.40) rotate(-45)">
<text transform="translate(0,9.48) scale(1,1.045)" font-size="25.2" text-anchor="end">S386<tspan dx="0.8" dy="-2.5" font-size="20.66">*</tspan></text>
</g>
<g transform="translate(552.50,1092.40) rotate(-45)">
<text transform="translate(0,9.48) scale(1,1.045)" font-size="25.2" text-anchor="end">Q465<tspan dx="0.8" dy="-2.5" font-size="20.66">*</tspan></text>
</g>
<polygon points="237.88,1076.69 259.32,1097.76 224.72,1133.31 203.28,1112.24" fill="none" stroke="#000" stroke-width="2.2" stroke-linejoin="miter"/>
<polygon points="389.60,1076.60 414.33,1100.46 354.30,1162.70 329.57,1138.84" fill="none" stroke="#000" stroke-width="2.2" stroke-linejoin="miter"/>
<polyline points="224.40,920.70 224.40,808.90 266.00,808.90 266.00,820.50" fill="none" stroke="#000" stroke-width="2.3" stroke-linejoin="miter"/>
<text transform="translate(203.50,798.80) scale(1,1.09)" font-size="20.5" text-anchor="start">p &lt; 0.01</text>
<polyline points="379.80,912.00 379.80,771.25 419.10,771.25 419.10,785.20" fill="none" stroke="#000" stroke-width="2.3" stroke-linejoin="miter"/>
<text transform="translate(361.00,762.20) scale(1,1.09)" font-size="20.5" text-anchor="start">p &lt; 0.01</text>
<text transform="translate(511.70,764.70) scale(1,1.045)" font-size="24.9" text-anchor="start">TRAIL (ng/mL)</text>
<rect x="607.00" y="791.20" width="27.10" height="17.40" fill="#fff" stroke="#000" stroke-width="1.8"/>
<text transform="translate(650.70,809.30) scale(1,1.045)" font-size="24.3" text-anchor="start">0</text>
<rect x="607.00" y="826.60" width="27.10" height="17.40" fill="#b1b1b1" stroke="#1c1c1c" stroke-width="1.8"/>
<rect x="608.40" y="828.00" width="24.30" height="14.60" fill="none" stroke="#c2c2c2" stroke-width="1"/>
<text transform="translate(650.70,844.70) scale(1,1.045)" font-size="24.3" text-anchor="start">50</text>
<rect x="607.00" y="862.00" width="27.10" height="17.40" fill="#000" stroke="#000" stroke-width="1.8"/>
<text transform="translate(650.70,880.30) scale(1,1.045)" font-size="24.3" text-anchor="start">200</text>
<text transform="translate(63.20,910.00) rotate(-90) scale(1,1.045)" font-size="25" text-anchor="middle">IL-6 mRNA</text>
<text transform="translate(94.30,911.00) rotate(-90) scale(1,1.045)" font-size="25" text-anchor="middle">(Fold rel. to no TRAIL)</text>
<text transform="translate(125.40,711.00) scale(1,1.045)" font-size="25" text-anchor="start">DOX (4 hr)</text>
<line x1="277.15" y1="704.00" x2="341.00" y2="704.00" stroke="#000" stroke-width="4.5" stroke-linecap="round"/>
<polygon points="340.00,695.70 360.00,704.00 340.00,712.30" fill="#000"/>
<text transform="translate(369.50,711.00) scale(1,1.045)" font-size="25" text-anchor="start">DOX + TRAIL (6 hr)</text>
<polyline points="119.50,1165.00 119.50,1172.00 561.80,1172.00 561.80,1165.00" fill="none" stroke="#000" stroke-width="2.4" stroke-linejoin="miter"/>
<line x1="358.50" y1="1172.00" x2="358.50" y2="1183.20" stroke="#000" stroke-width="2.4" stroke-linecap="butt"/>
<text transform="translate(365.40,1211.70) scale(1,1.045)" font-size="25" text-anchor="middle">Hela-CASP8 KO</text>
<line x1="855.00" y1="809.30" x2="855.00" y2="1073.10" stroke="#000" stroke-width="2.6" stroke-linecap="butt"/>
<line x1="847.00" y1="1071.80" x2="855.00" y2="1071.80" stroke="#000" stroke-width="2.6" stroke-linecap="butt"/>
<text transform="translate(845.40,1081.64) scale(1,1.045)" font-size="24" text-anchor="end">0</text>
<line x1="847.00" y1="1006.20" x2="855.00" y2="1006.20" stroke="#000" stroke-width="2.6" stroke-linecap="butt"/>
<text transform="translate(845.40,1016.04) scale(1,1.045)" font-size="24" text-anchor="end">1</text>
<line x1="847.00" y1="940.60" x2="855.00" y2="940.60" stroke="#000" stroke-width="2.6" stroke-linecap="butt"/>
<text transform="translate(845.40,950.44) scale(1,1.045)" font-size="24" text-anchor="end">2</text>
<line x1="847.00" y1="875.00" x2="855.00" y2="875.00" stroke="#000" stroke-width="2.6" stroke-linecap="butt"/>
<text transform="translate(845.40,884.84) scale(1,1.045)" font-size="24" text-anchor="end">3</text>
<line x1="847.00" y1="809.40" x2="855.00" y2="809.40" stroke="#000" stroke-width="2.6" stroke-linecap="butt"/>
<text transform="translate(845.40,819.24) scale(1,1.045)" font-size="24" text-anchor="end">4</text>
<line x1="847.00" y1="1071.80" x2="1858.80" y2="1071.80" stroke="#000" stroke-width="2.6" stroke-linecap="butt"/>
<line x1="887.10" y1="1071.80" x2="887.10" y2="1079.30" stroke="#000" stroke-width="2.6" stroke-linecap="butt"/>
<line x1="954.10" y1="1071.80" x2="954.10" y2="1079.30" stroke="#000" stroke-width="2.6" stroke-linecap="butt"/>
<line x1="1021.10" y1="1071.80" x2="1021.10" y2="1079.30" stroke="#000" stroke-width="2.6" stroke-linecap="butt"/>
<line x1="1088.10" y1="1071.80" x2="1088.10" y2="1079.30" stroke="#000" stroke-width="2.6" stroke-linecap="butt"/>
<line x1="1155.10" y1="1071.80" x2="1155.10" y2="1079.30" stroke="#000" stroke-width="2.6" stroke-linecap="butt"/>
<line x1="1222.10" y1="1071.80" x2="1222.10" y2="1079.30" stroke="#000" stroke-width="2.6" stroke-linecap="butt"/>
<line x1="1289.10" y1="1071.80" x2="1289.10" y2="1079.30" stroke="#000" stroke-width="2.6" stroke-linecap="butt"/>
<line x1="1356.10" y1="1071.80" x2="1356.10" y2="1079.30" stroke="#000" stroke-width="2.6" stroke-linecap="butt"/>
<line x1="1423.10" y1="1071.80" x2="1423.10" y2="1079.30" stroke="#000" stroke-width="2.6" stroke-linecap="butt"/>
<line x1="1490.10" y1="1071.80" x2="1490.10" y2="1079.30" stroke="#000" stroke-width="2.6" stroke-linecap="butt"/>
<line x1="1557.10" y1="1071.80" x2="1557.10" y2="1079.30" stroke="#000" stroke-width="2.6" stroke-linecap="butt"/>
<line x1="1624.10" y1="1071.80" x2="1624.10" y2="1079.30" stroke="#000" stroke-width="2.6" stroke-linecap="butt"/>
<line x1="1691.10" y1="1071.80" x2="1691.10" y2="1079.30" stroke="#000" stroke-width="2.6" stroke-linecap="butt"/>
<line x1="1758.10" y1="1071.80" x2="1758.10" y2="1079.30" stroke="#000" stroke-width="2.6" stroke-linecap="butt"/>
<line x1="1825.10" y1="1071.80" x2="1825.10" y2="1079.30" stroke="#000" stroke-width="2.6" stroke-linecap="butt"/>
<rect x="863.80" y="1008.97" width="13.60" height="62.83" fill="#fff" stroke="#000" stroke-width="1.6"/>
<path d="M870.60,1004.23V1012.10M866.35,1004.23H874.85M866.35,1012.10H874.85" stroke="#000" stroke-width="1.8" fill="none"/>
<rect x="881.00" y="952.55" width="13.60" height="119.25" fill="#949494" stroke="#1c1c1c" stroke-width="1.6"/>
<rect x="882.25" y="953.80" width="11.10" height="116.95" fill="none" stroke="#a6a6a6" stroke-width="0.9"/>
<path d="M887.80,947.82V955.69M883.55,947.82H892.05M883.55,955.69H892.05" stroke="#000" stroke-width="1.8" fill="none"/>
<rect x="898.30" y="927.62" width="13.60" height="144.18" fill="#000" stroke="#000" stroke-width="1.6"/>
<path d="M905.10,917.64V936.01M900.85,917.64H909.35M900.85,936.01H909.35" stroke="#000" stroke-width="1.8" fill="none"/>
<rect x="930.80" y="1005.03" width="13.60" height="66.77" fill="#fff" stroke="#000" stroke-width="1.6"/>
<path d="M937.60,1000.95V1007.51M933.35,1000.95H941.85M933.35,1007.51H941.85" stroke="#000" stroke-width="1.8" fill="none"/>
<rect x="948.00" y="969.61" width="13.60" height="102.19" fill="#949494" stroke="#1c1c1c" stroke-width="1.6"/>
<rect x="949.25" y="970.86" width="11.10" height="99.89" fill="none" stroke="#a6a6a6" stroke-width="0.9"/>
<path d="M954.80,965.53V972.09M950.55,965.53H959.05M950.55,972.09H959.05" stroke="#000" stroke-width="1.8" fill="none"/>
<rect x="965.30" y="987.98" width="13.60" height="83.82" fill="#000" stroke="#000" stroke-width="1.6"/>
<path d="M972.10,982.58V991.77M967.85,982.58H976.35M967.85,991.77H976.35" stroke="#000" stroke-width="1.8" fill="none"/>
<rect x="997.80" y="1007.66" width="13.60" height="64.14" fill="#fff" stroke="#000" stroke-width="1.6"/>
<path d="M1004.60,1002.26V1011.45M1000.35,1002.26H1008.85M1000.35,1011.45H1008.85" stroke="#000" stroke-width="1.8" fill="none"/>
<rect x="1015.00" y="970.26" width="13.60" height="101.54" fill="#949494" stroke="#1c1c1c" stroke-width="1.6"/>
<rect x="1016.25" y="971.51" width="11.10" height="99.24" fill="none" stroke="#a6a6a6" stroke-width="0.9"/>
<path d="M1021.80,965.53V973.40M1017.55,965.53H1026.05M1017.55,973.40H1026.05" stroke="#000" stroke-width="1.8" fill="none"/>
<rect x="1032.30" y="974.20" width="13.60" height="97.60" fill="#000" stroke="#000" stroke-width="1.6"/>
<path d="M1039.10,968.81V977.99M1034.85,968.81H1043.35M1034.85,977.99H1043.35" stroke="#000" stroke-width="1.8" fill="none"/>
<rect x="1064.80" y="1008.31" width="13.60" height="63.49" fill="#fff" stroke="#000" stroke-width="1.6"/>
<path d="M1071.60,1006.20V1008.82M1067.35,1006.20H1075.85M1067.35,1008.82H1075.85" stroke="#000" stroke-width="1.8" fill="none"/>
<rect x="1082.00" y="1005.03" width="13.60" height="66.77" fill="#949494" stroke="#1c1c1c" stroke-width="1.6"/>
<rect x="1083.25" y="1006.28" width="11.10" height="64.47" fill="none" stroke="#a6a6a6" stroke-width="0.9"/>
<path d="M1088.80,998.98V1009.48M1084.55,998.98H1093.05M1084.55,1009.48H1093.05" stroke="#000" stroke-width="1.8" fill="none"/>
<rect x="1099.30" y="958.46" width="13.60" height="113.34" fill="#000" stroke="#000" stroke-width="1.6"/>
<path d="M1106.10,955.03V960.28M1101.85,955.03H1110.35M1101.85,960.28H1110.35" stroke="#000" stroke-width="1.8" fill="none"/>
<rect x="1131.80" y="1003.06" width="13.60" height="68.74" fill="#fff" stroke="#000" stroke-width="1.6"/>
<path d="M1138.60,995.70V1008.82M1134.35,995.70H1142.85M1134.35,1008.82H1142.85" stroke="#000" stroke-width="1.8" fill="none"/>
<rect x="1149.00" y="970.26" width="13.60" height="101.54" fill="#949494" stroke="#1c1c1c" stroke-width="1.6"/>
<rect x="1150.25" y="971.51" width="11.10" height="99.24" fill="none" stroke="#a6a6a6" stroke-width="0.9"/>
<path d="M1155.80,965.53V973.40M1151.55,965.53H1160.05M1151.55,973.40H1160.05" stroke="#000" stroke-width="1.8" fill="none"/>
<rect x="1166.30" y="927.62" width="13.60" height="144.18" fill="#000" stroke="#000" stroke-width="1.6"/>
<path d="M1173.10,918.30V935.35M1168.85,918.30H1177.35M1168.85,935.35H1177.35" stroke="#000" stroke-width="1.8" fill="none"/>
<rect x="1198.80" y="1008.97" width="13.60" height="62.83" fill="#fff" stroke="#000" stroke-width="1.6"/>
<path d="M1205.60,1004.23V1012.10M1201.35,1004.23H1209.85M1201.35,1012.10H1209.85" stroke="#000" stroke-width="1.8" fill="none"/>
<rect x="1216.00" y="981.42" width="13.60" height="90.38" fill="#949494" stroke="#1c1c1c" stroke-width="1.6"/>
<rect x="1217.25" y="982.67" width="11.10" height="88.08" fill="none" stroke="#a6a6a6" stroke-width="0.9"/>
<path d="M1222.80,973.40V987.83M1218.55,973.40H1227.05M1218.55,987.83H1227.05" stroke="#000" stroke-width="1.8" fill="none"/>
<rect x="1233.30" y="997.16" width="13.60" height="74.64" fill="#000" stroke="#000" stroke-width="1.6"/>
<path d="M1240.10,993.08V999.64M1235.85,993.08H1244.35M1235.85,999.64H1244.35" stroke="#000" stroke-width="1.8" fill="none"/>
<rect x="1265.80" y="1005.03" width="13.60" height="66.77" fill="#fff" stroke="#000" stroke-width="1.6"/>
<path d="M1272.60,998.98V1009.48M1268.35,998.98H1276.85M1268.35,1009.48H1276.85" stroke="#000" stroke-width="1.8" fill="none"/>
<rect x="1283.00" y="984.04" width="13.60" height="87.76" fill="#949494" stroke="#1c1c1c" stroke-width="1.6"/>
<rect x="1284.25" y="985.29" width="11.10" height="85.46" fill="none" stroke="#a6a6a6" stroke-width="0.9"/>
<path d="M1289.80,981.27V985.21M1285.55,981.27H1294.05M1285.55,985.21H1294.05" stroke="#000" stroke-width="1.8" fill="none"/>
<rect x="1300.30" y="976.82" width="13.60" height="94.98" fill="#000" stroke="#000" stroke-width="1.6"/>
<path d="M1307.10,971.43V980.62M1302.85,971.43H1311.35M1302.85,980.62H1311.35" stroke="#000" stroke-width="1.8" fill="none"/>
<rect x="1332.80" y="1008.97" width="13.60" height="62.83" fill="#fff" stroke="#000" stroke-width="1.6"/>
<path d="M1339.60,1003.58V1012.76M1335.35,1003.58H1343.85M1335.35,1012.76H1343.85" stroke="#000" stroke-width="1.8" fill="none"/>
<rect x="1350.00" y="965.02" width="13.60" height="106.78" fill="#949494" stroke="#1c1c1c" stroke-width="1.6"/>
<rect x="1351.25" y="966.27" width="11.10" height="104.48" fill="none" stroke="#a6a6a6" stroke-width="0.9"/>
<path d="M1356.80,959.62V968.81M1352.55,959.62H1361.05M1352.55,968.81H1361.05" stroke="#000" stroke-width="1.8" fill="none"/>
<rect x="1367.30" y="854.81" width="13.60" height="216.99" fill="#000" stroke="#000" stroke-width="1.6"/>
<path d="M1374.10,848.10V859.91M1369.85,848.10H1378.35M1369.85,859.91H1378.35" stroke="#000" stroke-width="1.8" fill="none"/>
<rect x="1399.80" y="1010.28" width="13.60" height="61.52" fill="#fff" stroke="#000" stroke-width="1.6"/>
<path d="M1406.60,1005.54V1013.42M1402.35,1005.54H1410.85M1402.35,1013.42H1410.85" stroke="#000" stroke-width="1.8" fill="none"/>
<rect x="1417.00" y="981.42" width="13.60" height="90.38" fill="#949494" stroke="#1c1c1c" stroke-width="1.6"/>
<rect x="1418.25" y="982.67" width="11.10" height="88.08" fill="none" stroke="#a6a6a6" stroke-width="0.9"/>
<path d="M1423.80,976.68V984.55M1419.55,976.68H1428.05M1419.55,984.55H1428.05" stroke="#000" stroke-width="1.8" fill="none"/>
<rect x="1434.30" y="963.70" width="13.60" height="108.10" fill="#000" stroke="#000" stroke-width="1.6"/>
<path d="M1441.10,959.62V966.18M1436.85,959.62H1445.35M1436.85,966.18H1445.35" stroke="#000" stroke-width="1.8" fill="none"/>
<rect x="1466.80" y="1007.66" width="13.60" height="64.14" fill="#fff" stroke="#000" stroke-width="1.6"/>
<path d="M1473.60,1005.54V1008.17M1469.35,1005.54H1477.85M1469.35,1008.17H1477.85" stroke="#000" stroke-width="1.8" fill="none"/>
<rect x="1484.00" y="975.51" width="13.60" height="96.29" fill="#949494" stroke="#1c1c1c" stroke-width="1.6"/>
<rect x="1485.25" y="976.76" width="11.10" height="93.99" fill="none" stroke="#a6a6a6" stroke-width="0.9"/>
<path d="M1490.80,966.84V982.58M1486.55,966.84H1495.05M1486.55,982.58H1495.05" stroke="#000" stroke-width="1.8" fill="none"/>
<rect x="1501.30" y="976.82" width="13.60" height="94.98" fill="#000" stroke="#000" stroke-width="1.6"/>
<path d="M1508.10,970.78V981.27M1503.85,970.78H1512.35M1503.85,981.27H1512.35" stroke="#000" stroke-width="1.8" fill="none"/>
<rect x="1533.80" y="1009.62" width="13.60" height="62.18" fill="#fff" stroke="#000" stroke-width="1.6"/>
<path d="M1540.60,1005.54V1012.10M1536.35,1005.54H1544.85M1536.35,1012.10H1544.85" stroke="#000" stroke-width="1.8" fill="none"/>
<rect x="1551.00" y="997.16" width="13.60" height="74.64" fill="#949494" stroke="#1c1c1c" stroke-width="1.6"/>
<rect x="1552.25" y="998.41" width="11.10" height="72.34" fill="none" stroke="#a6a6a6" stroke-width="0.9"/>
<path d="M1557.80,993.08V999.64M1553.55,993.08H1562.05M1553.55,999.64H1562.05" stroke="#000" stroke-width="1.8" fill="none"/>
<rect x="1568.30" y="959.11" width="13.60" height="112.69" fill="#000" stroke="#000" stroke-width="1.6"/>
<path d="M1575.10,955.03V961.59M1570.85,955.03H1579.35M1570.85,961.59H1579.35" stroke="#000" stroke-width="1.8" fill="none"/>
<rect x="1600.80" y="1008.31" width="13.60" height="63.49" fill="#fff" stroke="#000" stroke-width="1.6"/>
<path d="M1607.60,1005.54V1009.48M1603.35,1005.54H1611.85M1603.35,1009.48H1611.85" stroke="#000" stroke-width="1.8" fill="none"/>
<rect x="1618.00" y="942.06" width="13.60" height="129.74" fill="#949494" stroke="#1c1c1c" stroke-width="1.6"/>
<rect x="1619.25" y="943.31" width="11.10" height="127.44" fill="none" stroke="#a6a6a6" stroke-width="0.9"/>
<path d="M1624.80,936.01V946.50M1620.55,936.01H1629.05M1620.55,946.50H1629.05" stroke="#000" stroke-width="1.8" fill="none"/>
<rect x="1635.30" y="968.30" width="13.60" height="103.50" fill="#000" stroke="#000" stroke-width="1.6"/>
<path d="M1642.10,964.87V970.12M1637.85,964.87H1646.35M1637.85,970.12H1646.35" stroke="#000" stroke-width="1.8" fill="none"/>
<rect x="1667.80" y="1008.31" width="13.60" height="63.49" fill="#fff" stroke="#000" stroke-width="1.6"/>
<path d="M1674.60,1003.58V1011.45M1670.35,1003.58H1678.85M1670.35,1011.45H1678.85" stroke="#000" stroke-width="1.8" fill="none"/>
<rect x="1685.00" y="952.55" width="13.60" height="119.25" fill="#949494" stroke="#1c1c1c" stroke-width="1.6"/>
<rect x="1686.25" y="953.80" width="11.10" height="116.95" fill="none" stroke="#a6a6a6" stroke-width="0.9"/>
<path d="M1691.80,949.78V953.72M1687.55,949.78H1696.05M1687.55,953.72H1696.05" stroke="#000" stroke-width="1.8" fill="none"/>
<rect x="1702.30" y="925.00" width="13.60" height="146.80" fill="#000" stroke="#000" stroke-width="1.6"/>
<path d="M1709.10,920.92V927.48M1704.85,920.92H1713.35M1704.85,927.48H1713.35" stroke="#000" stroke-width="1.8" fill="none"/>
<rect x="1734.80" y="1007.66" width="13.60" height="64.14" fill="#fff" stroke="#000" stroke-width="1.6"/>
<path d="M1741.60,1003.58V1010.14M1737.35,1003.58H1745.85M1737.35,1010.14H1745.85" stroke="#000" stroke-width="1.8" fill="none"/>
<rect x="1752.00" y="989.29" width="13.60" height="82.51" fill="#949494" stroke="#1c1c1c" stroke-width="1.6"/>
<rect x="1753.25" y="990.54" width="11.10" height="80.21" fill="none" stroke="#a6a6a6" stroke-width="0.9"/>
<path d="M1758.80,983.24V993.74M1754.55,983.24H1763.05M1754.55,993.74H1763.05" stroke="#000" stroke-width="1.8" fill="none"/>
<rect x="1769.30" y="957.14" width="13.60" height="114.66" fill="#000" stroke="#000" stroke-width="1.6"/>
<path d="M1776.10,951.75V960.94M1771.85,951.75H1780.35M1771.85,960.94H1780.35" stroke="#000" stroke-width="1.8" fill="none"/>
<rect x="1801.80" y="1008.97" width="13.60" height="62.83" fill="#fff" stroke="#000" stroke-width="1.6"/>
<path d="M1808.60,1006.20V1010.14M1804.35,1006.20H1812.85M1804.35,1010.14H1812.85" stroke="#000" stroke-width="1.8" fill="none"/>
<rect x="1819.00" y="992.57" width="13.60" height="79.23" fill="#949494" stroke="#1c1c1c" stroke-width="1.6"/>
<rect x="1820.25" y="993.82" width="11.10" height="76.93" fill="none" stroke="#a6a6a6" stroke-width="0.9"/>
<path d="M1825.80,987.83V995.70M1821.55,987.83H1830.05M1821.55,995.70H1830.05" stroke="#000" stroke-width="1.8" fill="none"/>
<rect x="1836.30" y="993.22" width="13.60" height="78.58" fill="#000" stroke="#000" stroke-width="1.6"/>
<path d="M1843.10,989.80V995.05M1838.85,989.80H1847.35M1838.85,995.05H1847.35" stroke="#000" stroke-width="1.8" fill="none"/>
<g transform="translate(886.10,1091.80) rotate(-45)">
<text transform="translate(0,9.40) scale(1,1.045)" font-size="25" text-anchor="end">WT</text>
</g>
<g transform="translate(953.10,1091.80) rotate(-45)">
<text transform="translate(0,9.40) scale(1,1.045)" font-size="25" text-anchor="end">L7V</text>
</g>
<g transform="translate(1020.10,1091.80) rotate(-45)">
<text transform="translate(0,9.40) scale(1,1.045)" font-size="25" text-anchor="end">G11E</text>
</g>
<g transform="translate(1087.10,1091.80) rotate(-45)">
<text transform="translate(0,9.40) scale(1,1.045)" font-size="25" text-anchor="end">G11R</text>
</g>
<g transform="translate(1154.10,1091.80) rotate(-45)">
<text transform="translate(0,9.40) scale(1,1.045)" font-size="25" text-anchor="end">L62P</text>
</g>
<g transform="translate(1221.10,1091.80) rotate(-45)">
<text transform="translate(0,9.40) scale(1,1.045)" font-size="25" text-anchor="end">R71T</text>
</g>
<g transform="translate(1288.10,1091.80) rotate(-45)">
<text transform="translate(0,9.40) scale(1,1.045)" font-size="25" text-anchor="end">S99F</text>
</g>
<g transform="translate(1355.10,1091.80) rotate(-45)">
<text transform="translate(0,9.40) scale(1,1.045)" font-size="25" text-anchor="end">Y178del</text>
</g>
<g transform="translate(1422.10,1091.80) rotate(-45)">
<text transform="translate(0,9.40) scale(1,1.045)" font-size="25" text-anchor="end">R248W</text>
</g>
<g transform="translate(1489.10,1091.80) rotate(-45)">
<text transform="translate(0,9.40) scale(1,1.045)" font-size="25" text-anchor="end">T272del</text>
</g>
<g transform="translate(1556.10,1091.80) rotate(-45)">
<text transform="translate(0,9.40) scale(1,1.045)" font-size="25" text-anchor="end">D303V</text>
</g>
<g transform="translate(1623.10,1091.80) rotate(-45)">
<text transform="translate(0,9.40) scale(1,1.045)" font-size="25" text-anchor="end">D308G</text>
</g>
<g transform="translate(1690.10,1091.80) rotate(-45)">
<text transform="translate(0,9.40) scale(1,1.045)" font-size="25" text-anchor="end">S375<tspan dx="0.8" dy="-2.5" font-size="20.50">*</tspan></text>
</g>
<g transform="translate(1757.10,1091.80) rotate(-45)">
<text transform="translate(0,9.40) scale(1,1.045)" font-size="25" text-anchor="end" font-style="italic">R435<tspan dx="0.8" dy="-2.5" font-size="20.50">*</tspan></text>
</g>
<g transform="translate(1824.10,1091.80) rotate(-45)">
<text transform="translate(0,9.40) scale(1,1.045)" font-size="25" text-anchor="end">T441T</text>
</g>
<polygon points="879.00,1075.99 900.72,1098.36 865.60,1135.51 843.88,1113.14" fill="none" stroke="#000" stroke-width="2.2" stroke-linejoin="miter"/>
<polygon points="1145.52,1080.41 1165.22,1099.14 1118.98,1146.79 1099.28,1128.06" fill="none" stroke="#000" stroke-width="2.2" stroke-linejoin="miter"/>
<polygon points="1347.33,1078.92 1368.21,1098.43 1297.97,1171.08 1277.09,1151.57" fill="none" stroke="#000" stroke-width="2.2" stroke-linejoin="miter"/>
<polygon points="1615.17,1082.14 1634.68,1100.58 1575.13,1161.86 1555.62,1143.42" fill="none" stroke="#000" stroke-width="2.2" stroke-linejoin="miter"/>
<polygon points="1683.93,1080.47 1702.75,1098.52 1651.07,1151.73 1632.25,1133.68" fill="none" stroke="#000" stroke-width="2.2" stroke-linejoin="miter"/>
<polyline points="869.60,938.90 869.60,894.40 905.80,894.40 905.80,903.60" fill="none" stroke="#000" stroke-width="2.3" stroke-linejoin="miter"/>
<text transform="translate(860.40,888.30) scale(1,1.09)" font-size="18.5" text-anchor="start">p &lt; 0.01</text>
<polyline points="1139.25,938.75 1139.25,887.00 1174.25,887.00 1174.25,893.75" fill="none" stroke="#000" stroke-width="2.3" stroke-linejoin="miter"/>
<text transform="translate(1123.75,882.05) scale(1,1.09)" font-size="18.5" text-anchor="start">p &lt; 0.01</text>
<polyline points="1339.25,967.50 1339.25,823.00 1375.00,823.00 1375.00,833.75" fill="none" stroke="#000" stroke-width="2.3" stroke-linejoin="miter"/>
<text transform="translate(1322.50,814.30) scale(1,1.09)" font-size="18.5" text-anchor="start">p &lt; 0.01</text>
<polyline points="1606.25,975.75 1606.25,900.75 1640.75,900.75 1640.75,906.25" fill="none" stroke="#000" stroke-width="2.3" stroke-linejoin="miter"/>
<text transform="translate(1586.25,895.05) scale(1,1.09)" font-size="18.5" text-anchor="start">p &lt; 0.01</text>
<polyline points="1672.50,975.75 1672.50,900.75 1707.50,900.75 1707.50,907.00" fill="none" stroke="#000" stroke-width="2.3" stroke-linejoin="miter"/>
<text transform="translate(1666.75,895.05) scale(1,1.09)" font-size="18.5" text-anchor="start">p &lt; 0.01</text>
<text transform="translate(1675.70,755.70) scale(1,1.045)" font-size="24.9" text-anchor="start">TRAIL (ng/mL)</text>
<rect x="1763.90" y="771.30" width="26.70" height="17.20" fill="#fff" stroke="#000" stroke-width="1.8"/>
<text transform="translate(1807.20,788.50) scale(1,1.045)" font-size="24.5" text-anchor="start">0</text>
<rect x="1763.90" y="796.80" width="26.70" height="17.20" fill="#949494" stroke="#1c1c1c" stroke-width="1.8"/>
<rect x="1765.30" y="798.20" width="23.90" height="14.40" fill="none" stroke="#a6a6a6" stroke-width="1"/>
<text transform="translate(1807.20,813.50) scale(1,1.045)" font-size="24.5" text-anchor="start">50</text>
<rect x="1763.90" y="821.30" width="26.70" height="17.20" fill="#000" stroke="#000" stroke-width="1.8"/>
<text transform="translate(1807.20,839.30) scale(1,1.045)" font-size="24.5" text-anchor="start">200</text>
<text transform="translate(786.40,937.40) rotate(-90) scale(1,1.045)" font-size="25" text-anchor="middle">IL-6 mRNA</text>
<text transform="translate(818.10,937.40) rotate(-90) scale(1,1.045)" font-size="25" text-anchor="middle">(Fold rel. to no TRAIL)</text>
<text transform="translate(1179.30,755.70) scale(1,1.045)" font-size="25" text-anchor="start">DOX</text>
<line x1="1263.65" y1="748.60" x2="1312.10" y2="748.60" stroke="#000" stroke-width="4.5" stroke-linecap="round"/>
<polygon points="1311.10,740.30 1331.10,748.60 1311.10,756.90" fill="#000"/>
<text transform="translate(1348.90,755.70) scale(1,1.045)" font-size="24.6" text-anchor="start">DOX + TRAIL (6 hr)</text>
<polyline points="863.00,1178.30 863.00,1185.20 1836.30,1185.20 1836.30,1178.30" fill="none" stroke="#000" stroke-width="2.4" stroke-linejoin="miter"/>
<line x1="1365.20" y1="1185.20" x2="1365.20" y2="1195.60" stroke="#000" stroke-width="2.4" stroke-linecap="butt"/>
<text transform="translate(1371.75,1222.00) scale(1,1.045)" font-size="24.6" text-anchor="middle">HeLa-CASP8 KO</text>
<line x1="126.00" y1="1398.60" x2="126.00" y2="1710.30" stroke="#000" stroke-width="2.6" stroke-linecap="butt"/>
<line x1="119.00" y1="1709.00" x2="126.00" y2="1709.00" stroke="#000" stroke-width="2.6" stroke-linecap="butt"/>
<text transform="translate(117.40,1718.84) scale(1,1.045)" font-size="24" text-anchor="end">0</text>
<line x1="119.00" y1="1657.23" x2="126.00" y2="1657.23" stroke="#000" stroke-width="2.6" stroke-linecap="butt"/>
<text transform="translate(117.40,1667.07) scale(1,1.045)" font-size="24" text-anchor="end">1</text>
<line x1="119.00" y1="1605.46" x2="126.00" y2="1605.46" stroke="#000" stroke-width="2.6" stroke-linecap="butt"/>
<text transform="translate(117.40,1615.30) scale(1,1.045)" font-size="24" text-anchor="end">2</text>
<line x1="119.00" y1="1553.69" x2="126.00" y2="1553.69" stroke="#000" stroke-width="2.6" stroke-linecap="butt"/>
<text transform="translate(117.40,1563.53) scale(1,1.045)" font-size="24" text-anchor="end">3</text>
<line x1="119.00" y1="1501.92" x2="126.00" y2="1501.92" stroke="#000" stroke-width="2.6" stroke-linecap="butt"/>
<text transform="translate(117.40,1511.76) scale(1,1.045)" font-size="24" text-anchor="end">4</text>
<line x1="119.00" y1="1450.15" x2="126.00" y2="1450.15" stroke="#000" stroke-width="2.6" stroke-linecap="butt"/>
<text transform="translate(117.40,1459.99) scale(1,1.045)" font-size="24" text-anchor="end">5</text>
<line x1="119.00" y1="1398.38" x2="126.00" y2="1398.38" stroke="#000" stroke-width="2.6" stroke-linecap="butt"/>
<text transform="translate(117.40,1408.22) scale(1,1.045)" font-size="24" text-anchor="end">6</text>
<line x1="118.00" y1="1709.00" x2="589.60" y2="1709.00" stroke="#000" stroke-width="2.6" stroke-linecap="butt"/>
<line x1="163.20" y1="1709.00" x2="163.20" y2="1716.50" stroke="#000" stroke-width="2.6" stroke-linecap="butt"/>
<line x1="240.86" y1="1709.00" x2="240.86" y2="1716.50" stroke="#000" stroke-width="2.6" stroke-linecap="butt"/>
<line x1="318.52" y1="1709.00" x2="318.52" y2="1716.50" stroke="#000" stroke-width="2.6" stroke-linecap="butt"/>
<line x1="396.18" y1="1709.00" x2="396.18" y2="1716.50" stroke="#000" stroke-width="2.6" stroke-linecap="butt"/>
<line x1="473.84" y1="1709.00" x2="473.84" y2="1716.50" stroke="#000" stroke-width="2.6" stroke-linecap="butt"/>
<line x1="551.50" y1="1709.00" x2="551.50" y2="1716.50" stroke="#000" stroke-width="2.6" stroke-linecap="butt"/>
<rect x="135.80" y="1659.07" width="15.60" height="49.93" fill="#fff" stroke="#000" stroke-width="1.6"/>
<path d="M143.60,1657.75V1658.78M138.85,1657.75H148.35M138.85,1658.78H148.35" stroke="#000" stroke-width="1.8" fill="none"/>
<rect x="155.50" y="1643.53" width="15.60" height="65.47" fill="#b1b1b1" stroke="#1c1c1c" stroke-width="1.6"/>
<rect x="156.75" y="1644.78" width="13.10" height="63.17" fill="none" stroke="#c2c2c2" stroke-width="0.9"/>
<path d="M163.30,1640.66V1644.81M158.55,1640.66H168.05M158.55,1644.81H168.05" stroke="#000" stroke-width="1.8" fill="none"/>
<rect x="175.50" y="1656.99" width="15.60" height="52.01" fill="#000" stroke="#000" stroke-width="1.6"/>
<path d="M183.30,1655.68V1656.71M178.55,1655.68H188.05M178.55,1656.71H188.05" stroke="#000" stroke-width="1.8" fill="none"/>
<rect x="213.46" y="1659.58" width="15.60" height="49.42" fill="#fff" stroke="#000" stroke-width="1.6"/>
<path d="M221.26,1655.16V1662.41M216.51,1655.16H226.01M216.51,1662.41H226.01" stroke="#000" stroke-width="1.8" fill="none"/>
<rect x="233.16" y="1564.84" width="15.60" height="144.16" fill="#b1b1b1" stroke="#1c1c1c" stroke-width="1.6"/>
<rect x="234.41" y="1566.09" width="13.10" height="141.86" fill="none" stroke="#c2c2c2" stroke-width="0.9"/>
<path d="M240.96,1557.31V1570.77M236.21,1557.31H245.71M236.21,1570.77H245.71" stroke="#000" stroke-width="1.8" fill="none"/>
<rect x="253.16" y="1458.72" width="15.60" height="250.28" fill="#000" stroke="#000" stroke-width="1.6"/>
<path d="M260.96,1444.46V1471.38M256.21,1444.46H265.71M256.21,1471.38H265.71" stroke="#000" stroke-width="1.8" fill="none"/>
<rect x="291.12" y="1659.07" width="15.60" height="49.93" fill="#fff" stroke="#000" stroke-width="1.6"/>
<path d="M298.92,1657.75V1658.78M294.17,1657.75H303.67M294.17,1658.78H303.67" stroke="#000" stroke-width="1.8" fill="none"/>
<rect x="310.82" y="1650.26" width="15.60" height="58.74" fill="#b1b1b1" stroke="#1c1c1c" stroke-width="1.6"/>
<rect x="312.07" y="1651.51" width="13.10" height="56.44" fill="none" stroke="#c2c2c2" stroke-width="0.9"/>
<path d="M318.62,1648.95V1649.98M313.87,1648.95H323.37M313.87,1649.98H323.37" stroke="#000" stroke-width="1.8" fill="none"/>
<rect x="330.82" y="1650.78" width="15.60" height="58.22" fill="#000" stroke="#000" stroke-width="1.6"/>
<path d="M338.62,1649.46V1650.50M333.87,1649.46H343.37M333.87,1650.50H343.37" stroke="#000" stroke-width="1.8" fill="none"/>
<rect x="368.78" y="1659.07" width="15.60" height="49.93" fill="#fff" stroke="#000" stroke-width="1.6"/>
<path d="M376.58,1657.75V1658.78M371.83,1657.75H381.33M371.83,1658.78H381.33" stroke="#000" stroke-width="1.8" fill="none"/>
<rect x="388.48" y="1589.18" width="15.60" height="119.82" fill="#b1b1b1" stroke="#1c1c1c" stroke-width="1.6"/>
<rect x="389.73" y="1590.43" width="13.10" height="117.52" fill="none" stroke="#c2c2c2" stroke-width="0.9"/>
<path d="M396.28,1585.79V1590.96M391.53,1585.79H401.03M391.53,1590.96H401.03" stroke="#000" stroke-width="1.8" fill="none"/>
<rect x="408.48" y="1473.21" width="15.60" height="235.79" fill="#000" stroke="#000" stroke-width="1.6"/>
<path d="M416.28,1471.89V1472.93M411.53,1471.89H421.03M411.53,1472.93H421.03" stroke="#000" stroke-width="1.8" fill="none"/>
<rect x="446.44" y="1659.58" width="15.60" height="49.42" fill="#fff" stroke="#000" stroke-width="1.6"/>
<path d="M454.24,1656.19V1661.37M449.49,1656.19H458.99M449.49,1661.37H458.99" stroke="#000" stroke-width="1.8" fill="none"/>
<rect x="466.14" y="1666.83" width="15.60" height="42.17" fill="#b1b1b1" stroke="#1c1c1c" stroke-width="1.6"/>
<rect x="467.39" y="1668.08" width="13.10" height="39.87" fill="none" stroke="#c2c2c2" stroke-width="0.9"/>
<path d="M473.94,1665.51V1666.55M469.19,1665.51H478.69M469.19,1666.55H478.69" stroke="#000" stroke-width="1.8" fill="none"/>
<rect x="486.14" y="1662.69" width="15.60" height="46.31" fill="#000" stroke="#000" stroke-width="1.6"/>
<path d="M493.94,1661.37V1662.41M489.19,1661.37H498.69M489.19,1662.41H498.69" stroke="#000" stroke-width="1.8" fill="none"/>
<rect x="524.10" y="1659.58" width="15.60" height="49.42" fill="#fff" stroke="#000" stroke-width="1.6"/>
<path d="M531.90,1656.19V1661.37M527.15,1656.19H536.65M527.15,1661.37H536.65" stroke="#000" stroke-width="1.8" fill="none"/>
<rect x="543.80" y="1650.26" width="15.60" height="58.74" fill="#b1b1b1" stroke="#1c1c1c" stroke-width="1.6"/>
<rect x="545.05" y="1651.51" width="13.10" height="56.44" fill="none" stroke="#c2c2c2" stroke-width="0.9"/>
<path d="M551.60,1647.39V1651.54M546.85,1647.39H556.35M546.85,1651.54H556.35" stroke="#000" stroke-width="1.8" fill="none"/>
<rect x="563.80" y="1630.59" width="15.60" height="78.41" fill="#000" stroke="#000" stroke-width="1.6"/>
<path d="M571.60,1625.13V1634.45M566.85,1625.13H576.35M566.85,1634.45H576.35" stroke="#000" stroke-width="1.8" fill="none"/>
<g transform="translate(162.70,1730.00) rotate(-45)">
<text transform="translate(0,9.48) scale(1,1.045)" font-size="25.2" text-anchor="end">LacZ</text>
</g>
<g transform="translate(240.36,1730.00) rotate(-45)">
<text transform="translate(0,9.48) scale(1,1.045)" font-size="25.2" text-anchor="end">WT</text>
</g>
<g transform="translate(318.02,1730.00) rotate(-45)">
<text transform="translate(0,9.48) scale(1,1.045)" font-size="25.2" text-anchor="end">L105H</text>
</g>
<g transform="translate(395.68,1730.00) rotate(-45)">
<text transform="translate(0,9.48) scale(1,1.045)" font-size="25.2" text-anchor="end">D303G</text>
</g>
<g transform="translate(473.34,1730.00) rotate(-45)">
<text transform="translate(0,9.48) scale(1,1.045)" font-size="25.2" text-anchor="end">S386<tspan dx="0.8" dy="-2.5" font-size="20.66">*</tspan></text>
</g>
<g transform="translate(551.00,1730.00) rotate(-45)">
<text transform="translate(0,9.48) scale(1,1.045)" font-size="25.2" text-anchor="end">Q465<tspan dx="0.8" dy="-2.5" font-size="20.66">*</tspan></text>
</g>
<polygon points="233.19,1714.69 254.63,1735.48 220.11,1771.51 198.67,1750.72" fill="none" stroke="#000" stroke-width="2.2" stroke-linejoin="miter"/>
<polygon points="386.70,1714.60 411.43,1738.37 351.00,1801.20 326.27,1777.43" fill="none" stroke="#000" stroke-width="2.2" stroke-linejoin="miter"/>
<polyline points="220.60,1576.40 220.60,1418.70 261.20,1418.70 261.20,1425.80" fill="none" stroke="#000" stroke-width="2.3" stroke-linejoin="miter"/>
<text transform="translate(199.40,1405.00) scale(1,1.09)" font-size="20.5" text-anchor="start">p &lt; 0.01</text>
<polyline points="375.00,1609.20 375.00,1432.10 416.70,1432.10 416.70,1452.90" fill="none" stroke="#000" stroke-width="2.3" stroke-linejoin="miter"/>
<text transform="translate(350.70,1418.90) scale(1,1.09)" font-size="20.5" text-anchor="start">p &lt; 0.01</text>
<text transform="translate(509.30,1398.90) scale(1,1.045)" font-size="24.9" text-anchor="start">TRAIL (ng/mL)</text>
<rect x="606.00" y="1427.30" width="27.40" height="17.80" fill="#fff" stroke="#000" stroke-width="1.8"/>
<text transform="translate(650.30,1446.00) scale(1,1.045)" font-size="24.3" text-anchor="start">0</text>
<rect x="606.00" y="1463.00" width="27.40" height="17.80" fill="#b1b1b1" stroke="#1c1c1c" stroke-width="1.8"/>
<rect x="607.40" y="1464.40" width="24.60" height="15.00" fill="none" stroke="#c2c2c2" stroke-width="1"/>
<text transform="translate(650.30,1481.70) scale(1,1.045)" font-size="24.3" text-anchor="start">50</text>
<rect x="606.00" y="1499.00" width="27.40" height="17.80" fill="#000" stroke="#000" stroke-width="1.8"/>
<text transform="translate(650.30,1517.90) scale(1,1.045)" font-size="24.3" text-anchor="start">200</text>
<text transform="translate(56.10,1546.00) rotate(-90) scale(1,1.045)" font-size="25" text-anchor="middle">CXCL1 mRNA</text>
<text transform="translate(86.80,1547.00) rotate(-90) scale(1,1.045)" font-size="25" text-anchor="middle">(Fold rel. to no TRAIL)</text>
<text transform="translate(123.90,1350.60) scale(1,1.045)" font-size="25" text-anchor="start">DOX (4 hr)</text>
<line x1="277.75" y1="1342.60" x2="343.20" y2="1342.60" stroke="#000" stroke-width="4.5" stroke-linecap="round"/>
<polygon points="342.20,1334.30 362.20,1342.60 342.20,1350.90" fill="#000"/>
<text transform="translate(370.80,1350.60) scale(1,1.045)" font-size="25" text-anchor="start">DOX + TRAIL (6 hr)</text>
<polyline points="113.00,1806.80 113.00,1813.90 557.30,1813.90 557.30,1806.80" fill="none" stroke="#000" stroke-width="2.4" stroke-linejoin="miter"/>
<line x1="351.40" y1="1813.90" x2="351.40" y2="1826.30" stroke="#000" stroke-width="2.4" stroke-linecap="butt"/>
<text transform="translate(361.60,1854.20) scale(1,1.045)" font-size="25" text-anchor="middle">Hela-CASP8 KO</text>
<line x1="856.50" y1="1433.20" x2="856.50" y2="1700.60" stroke="#000" stroke-width="2.6" stroke-linecap="butt"/>
<line x1="848.50" y1="1699.30" x2="856.50" y2="1699.30" stroke="#000" stroke-width="2.6" stroke-linecap="butt"/>
<text transform="translate(845.40,1709.14) scale(1,1.045)" font-size="24" text-anchor="end">0</text>
<line x1="848.50" y1="1632.80" x2="856.50" y2="1632.80" stroke="#000" stroke-width="2.6" stroke-linecap="butt"/>
<text transform="translate(845.40,1642.64) scale(1,1.045)" font-size="24" text-anchor="end">1</text>
<line x1="848.50" y1="1566.30" x2="856.50" y2="1566.30" stroke="#000" stroke-width="2.6" stroke-linecap="butt"/>
<text transform="translate(845.40,1576.14) scale(1,1.045)" font-size="24" text-anchor="end">2</text>
<line x1="848.50" y1="1499.80" x2="856.50" y2="1499.80" stroke="#000" stroke-width="2.6" stroke-linecap="butt"/>
<text transform="translate(845.40,1509.64) scale(1,1.045)" font-size="24" text-anchor="end">3</text>
<line x1="848.50" y1="1433.30" x2="856.50" y2="1433.30" stroke="#000" stroke-width="2.6" stroke-linecap="butt"/>
<text transform="translate(845.40,1443.14) scale(1,1.045)" font-size="24" text-anchor="end">4</text>
<line x1="848.50" y1="1699.30" x2="1871.30" y2="1699.30" stroke="#000" stroke-width="2.6" stroke-linecap="butt"/>
<line x1="887.80" y1="1699.30" x2="887.80" y2="1706.80" stroke="#000" stroke-width="2.6" stroke-linecap="butt"/>
<line x1="955.60" y1="1699.30" x2="955.60" y2="1706.80" stroke="#000" stroke-width="2.6" stroke-linecap="butt"/>
<line x1="1023.40" y1="1699.30" x2="1023.40" y2="1706.80" stroke="#000" stroke-width="2.6" stroke-linecap="butt"/>
<line x1="1091.20" y1="1699.30" x2="1091.20" y2="1706.80" stroke="#000" stroke-width="2.6" stroke-linecap="butt"/>
<line x1="1159.00" y1="1699.30" x2="1159.00" y2="1706.80" stroke="#000" stroke-width="2.6" stroke-linecap="butt"/>
<line x1="1226.80" y1="1699.30" x2="1226.80" y2="1706.80" stroke="#000" stroke-width="2.6" stroke-linecap="butt"/>
<line x1="1294.60" y1="1699.30" x2="1294.60" y2="1706.80" stroke="#000" stroke-width="2.6" stroke-linecap="butt"/>
<line x1="1362.40" y1="1699.30" x2="1362.40" y2="1706.80" stroke="#000" stroke-width="2.6" stroke-linecap="butt"/>
<line x1="1430.20" y1="1699.30" x2="1430.20" y2="1706.80" stroke="#000" stroke-width="2.6" stroke-linecap="butt"/>
<line x1="1498.00" y1="1699.30" x2="1498.00" y2="1706.80" stroke="#000" stroke-width="2.6" stroke-linecap="butt"/>
<line x1="1565.80" y1="1699.30" x2="1565.80" y2="1706.80" stroke="#000" stroke-width="2.6" stroke-linecap="butt"/>
<line x1="1633.60" y1="1699.30" x2="1633.60" y2="1706.80" stroke="#000" stroke-width="2.6" stroke-linecap="butt"/>
<line x1="1701.40" y1="1699.30" x2="1701.40" y2="1706.80" stroke="#000" stroke-width="2.6" stroke-linecap="butt"/>
<line x1="1769.20" y1="1699.30" x2="1769.20" y2="1706.80" stroke="#000" stroke-width="2.6" stroke-linecap="butt"/>
<line x1="1837.00" y1="1699.30" x2="1837.00" y2="1706.80" stroke="#000" stroke-width="2.6" stroke-linecap="butt"/>
<rect x="864.50" y="1629.61" width="13.60" height="69.69" fill="#fff" stroke="#000" stroke-width="1.6"/>
<path d="M871.30,1622.83V1634.79M867.05,1622.83H875.55M867.05,1634.79H875.55" stroke="#000" stroke-width="1.8" fill="none"/>
<rect x="882.00" y="1561.12" width="13.60" height="138.18" fill="#949494" stroke="#1c1c1c" stroke-width="1.6"/>
<rect x="883.25" y="1562.37" width="11.10" height="135.88" fill="none" stroke="#a6a6a6" stroke-width="0.9"/>
<path d="M888.80,1553.00V1567.63M884.55,1553.00H893.05M884.55,1567.63H893.05" stroke="#000" stroke-width="1.8" fill="none"/>
<rect x="899.60" y="1499.27" width="13.60" height="200.03" fill="#000" stroke="#000" stroke-width="1.6"/>
<path d="M906.40,1490.49V1506.45M902.15,1490.49H910.65M902.15,1506.45H910.65" stroke="#000" stroke-width="1.8" fill="none"/>
<rect x="932.30" y="1633.60" width="13.60" height="65.70" fill="#fff" stroke="#000" stroke-width="1.6"/>
<path d="M939.10,1631.47V1634.13M934.85,1631.47H943.35M934.85,1634.13H943.35" stroke="#000" stroke-width="1.8" fill="none"/>
<rect x="949.80" y="1604.34" width="13.60" height="94.96" fill="#949494" stroke="#1c1c1c" stroke-width="1.6"/>
<rect x="951.05" y="1605.59" width="11.10" height="92.66" fill="none" stroke="#a6a6a6" stroke-width="0.9"/>
<path d="M956.60,1600.88V1606.20M952.35,1600.88H960.85M952.35,1606.20H960.85" stroke="#000" stroke-width="1.8" fill="none"/>
<rect x="967.40" y="1633.60" width="13.60" height="65.70" fill="#000" stroke="#000" stroke-width="1.6"/>
<path d="M974.20,1626.82V1638.78M969.95,1626.82H978.45M969.95,1638.78H978.45" stroke="#000" stroke-width="1.8" fill="none"/>
<rect x="1000.10" y="1638.25" width="13.60" height="61.05" fill="#fff" stroke="#000" stroke-width="1.6"/>
<path d="M1006.90,1632.80V1642.11M1002.65,1632.80H1011.15M1002.65,1642.11H1011.15" stroke="#000" stroke-width="1.8" fill="none"/>
<rect x="1017.60" y="1579.07" width="13.60" height="120.23" fill="#949494" stroke="#1c1c1c" stroke-width="1.6"/>
<rect x="1018.85" y="1580.32" width="11.10" height="117.93" fill="none" stroke="#a6a6a6" stroke-width="0.9"/>
<path d="M1024.40,1576.94V1579.60M1020.15,1576.94H1028.65M1020.15,1579.60H1028.65" stroke="#000" stroke-width="1.8" fill="none"/>
<rect x="1035.20" y="1602.35" width="13.60" height="96.95" fill="#000" stroke="#000" stroke-width="1.6"/>
<path d="M1042.00,1599.55V1603.54M1037.75,1599.55H1046.25M1037.75,1603.54H1046.25" stroke="#000" stroke-width="1.8" fill="none"/>
<rect x="1067.90" y="1632.27" width="13.60" height="67.03" fill="#fff" stroke="#000" stroke-width="1.6"/>
<path d="M1074.70,1628.81V1634.13M1070.45,1628.81H1078.95M1070.45,1634.13H1078.95" stroke="#000" stroke-width="1.8" fill="none"/>
<rect x="1085.40" y="1634.26" width="13.60" height="65.04" fill="#949494" stroke="#1c1c1c" stroke-width="1.6"/>
<rect x="1086.65" y="1635.51" width="11.10" height="62.74" fill="none" stroke="#a6a6a6" stroke-width="0.9"/>
<path d="M1092.20,1632.80V1634.13M1087.95,1632.80H1096.45M1087.95,1634.13H1096.45" stroke="#000" stroke-width="1.8" fill="none"/>
<rect x="1103.00" y="1605.67" width="13.60" height="93.63" fill="#000" stroke="#000" stroke-width="1.6"/>
<path d="M1109.80,1596.89V1612.85M1105.55,1596.89H1114.05M1105.55,1612.85H1114.05" stroke="#000" stroke-width="1.8" fill="none"/>
<rect x="1135.70" y="1630.27" width="13.60" height="69.03" fill="#fff" stroke="#000" stroke-width="1.6"/>
<path d="M1142.50,1624.82V1634.13M1138.25,1624.82H1146.75M1138.25,1634.13H1146.75" stroke="#000" stroke-width="1.8" fill="none"/>
<rect x="1153.20" y="1607.66" width="13.60" height="91.63" fill="#949494" stroke="#1c1c1c" stroke-width="1.6"/>
<rect x="1154.45" y="1608.91" width="11.10" height="89.33" fill="none" stroke="#a6a6a6" stroke-width="0.9"/>
<path d="M1160.00,1602.88V1610.86M1155.75,1602.88H1164.25M1155.75,1610.86H1164.25" stroke="#000" stroke-width="1.8" fill="none"/>
<rect x="1170.80" y="1506.58" width="13.60" height="192.72" fill="#000" stroke="#000" stroke-width="1.6"/>
<path d="M1177.60,1503.12V1508.44M1173.35,1503.12H1181.85M1173.35,1508.44H1181.85" stroke="#000" stroke-width="1.8" fill="none"/>
<rect x="1203.50" y="1641.58" width="13.60" height="57.72" fill="#fff" stroke="#000" stroke-width="1.6"/>
<path d="M1210.30,1634.13V1647.43M1206.05,1634.13H1214.55M1206.05,1647.43H1214.55" stroke="#000" stroke-width="1.8" fill="none"/>
<rect x="1221.00" y="1618.30" width="13.60" height="81.00" fill="#949494" stroke="#1c1c1c" stroke-width="1.6"/>
<rect x="1222.25" y="1619.55" width="11.10" height="78.70" fill="none" stroke="#a6a6a6" stroke-width="0.9"/>
<path d="M1227.80,1613.51V1621.49M1223.55,1613.51H1232.05M1223.55,1621.49H1232.05" stroke="#000" stroke-width="1.8" fill="none"/>
<rect x="1238.60" y="1636.92" width="13.60" height="62.37" fill="#000" stroke="#000" stroke-width="1.6"/>
<path d="M1245.40,1628.14V1644.11M1241.15,1628.14H1249.65M1241.15,1644.11H1249.65" stroke="#000" stroke-width="1.8" fill="none"/>
<rect x="1271.30" y="1635.60" width="13.60" height="63.70" fill="#fff" stroke="#000" stroke-width="1.6"/>
<path d="M1278.10,1632.13V1637.45M1273.85,1632.13H1282.35M1273.85,1637.45H1282.35" stroke="#000" stroke-width="1.8" fill="none"/>
<rect x="1288.80" y="1626.95" width="13.60" height="72.35" fill="#949494" stroke="#1c1c1c" stroke-width="1.6"/>
<rect x="1290.05" y="1628.20" width="11.10" height="70.05" fill="none" stroke="#a6a6a6" stroke-width="0.9"/>
<path d="M1295.60,1623.49V1628.81M1291.35,1623.49H1299.85M1291.35,1628.81H1299.85" stroke="#000" stroke-width="1.8" fill="none"/>
<rect x="1306.40" y="1620.96" width="13.60" height="78.33" fill="#000" stroke="#000" stroke-width="1.6"/>
<path d="M1313.20,1616.84V1623.49M1308.95,1616.84H1317.45M1308.95,1623.49H1317.45" stroke="#000" stroke-width="1.8" fill="none"/>
<rect x="1339.10" y="1636.26" width="13.60" height="63.04" fill="#fff" stroke="#000" stroke-width="1.6"/>
<path d="M1345.90,1632.80V1638.12M1341.65,1632.80H1350.15M1341.65,1638.12H1350.15" stroke="#000" stroke-width="1.8" fill="none"/>
<rect x="1356.60" y="1601.68" width="13.60" height="97.62" fill="#949494" stroke="#1c1c1c" stroke-width="1.6"/>
<rect x="1357.85" y="1602.93" width="11.10" height="95.32" fill="none" stroke="#a6a6a6" stroke-width="0.9"/>
<path d="M1363.40,1596.89V1604.87M1359.15,1596.89H1367.65M1359.15,1604.87H1367.65" stroke="#000" stroke-width="1.8" fill="none"/>
<rect x="1374.20" y="1457.38" width="13.60" height="241.92" fill="#000" stroke="#000" stroke-width="1.6"/>
<path d="M1381.00,1452.59V1460.57M1376.75,1452.59H1385.25M1376.75,1460.57H1385.25" stroke="#000" stroke-width="1.8" fill="none"/>
<rect x="1406.90" y="1636.92" width="13.60" height="62.37" fill="#fff" stroke="#000" stroke-width="1.6"/>
<path d="M1413.70,1632.13V1640.12M1409.45,1632.13H1417.95M1409.45,1640.12H1417.95" stroke="#000" stroke-width="1.8" fill="none"/>
<rect x="1424.40" y="1590.38" width="13.60" height="108.92" fill="#949494" stroke="#1c1c1c" stroke-width="1.6"/>
<rect x="1425.65" y="1591.62" width="11.10" height="106.62" fill="none" stroke="#a6a6a6" stroke-width="0.9"/>
<path d="M1431.20,1586.91V1592.23M1426.95,1586.91H1435.45M1426.95,1592.23H1435.45" stroke="#000" stroke-width="1.8" fill="none"/>
<rect x="1442.00" y="1578.40" width="13.60" height="120.89" fill="#000" stroke="#000" stroke-width="1.6"/>
<path d="M1448.80,1576.94V1578.27M1444.55,1576.94H1453.05M1444.55,1578.27H1453.05" stroke="#000" stroke-width="1.8" fill="none"/>
<rect x="1474.70" y="1636.26" width="13.60" height="63.04" fill="#fff" stroke="#000" stroke-width="1.6"/>
<path d="M1481.50,1632.80V1638.12M1477.25,1632.80H1485.75M1477.25,1638.12H1485.75" stroke="#000" stroke-width="1.8" fill="none"/>
<rect x="1492.20" y="1600.35" width="13.60" height="98.95" fill="#949494" stroke="#1c1c1c" stroke-width="1.6"/>
<rect x="1493.45" y="1601.60" width="11.10" height="96.65" fill="none" stroke="#a6a6a6" stroke-width="0.9"/>
<path d="M1499.00,1596.22V1602.88M1494.75,1596.22H1503.25M1494.75,1602.88H1503.25" stroke="#000" stroke-width="1.8" fill="none"/>
<rect x="1509.80" y="1603.01" width="13.60" height="96.29" fill="#000" stroke="#000" stroke-width="1.6"/>
<path d="M1516.60,1596.89V1607.53M1512.35,1596.89H1520.85M1512.35,1607.53H1520.85" stroke="#000" stroke-width="1.8" fill="none"/>
<rect x="1542.50" y="1633.60" width="13.60" height="65.70" fill="#fff" stroke="#000" stroke-width="1.6"/>
<path d="M1549.30,1630.80V1634.80M1545.05,1630.80H1553.55M1545.05,1634.80H1553.55" stroke="#000" stroke-width="1.8" fill="none"/>
<rect x="1560.00" y="1618.97" width="13.60" height="80.33" fill="#949494" stroke="#1c1c1c" stroke-width="1.6"/>
<rect x="1561.25" y="1620.22" width="11.10" height="78.03" fill="none" stroke="#a6a6a6" stroke-width="0.9"/>
<path d="M1566.80,1614.18V1622.16M1562.55,1614.18H1571.05M1562.55,1622.16H1571.05" stroke="#000" stroke-width="1.8" fill="none"/>
<rect x="1577.60" y="1563.77" width="13.60" height="135.53" fill="#000" stroke="#000" stroke-width="1.6"/>
<path d="M1584.40,1558.98V1566.96M1580.15,1558.98H1588.65M1580.15,1566.96H1588.65" stroke="#000" stroke-width="1.8" fill="none"/>
<rect x="1610.30" y="1634.93" width="13.60" height="64.37" fill="#fff" stroke="#000" stroke-width="1.6"/>
<path d="M1617.10,1629.47V1638.78M1612.85,1629.47H1621.35M1612.85,1638.78H1621.35" stroke="#000" stroke-width="1.8" fill="none"/>
<rect x="1627.80" y="1529.86" width="13.60" height="169.44" fill="#949494" stroke="#1c1c1c" stroke-width="1.6"/>
<rect x="1629.05" y="1531.11" width="11.10" height="167.14" fill="none" stroke="#a6a6a6" stroke-width="0.9"/>
<path d="M1634.60,1526.40V1531.72M1630.35,1526.40H1638.85M1630.35,1531.72H1638.85" stroke="#000" stroke-width="1.8" fill="none"/>
<rect x="1645.40" y="1575.08" width="13.60" height="124.22" fill="#000" stroke="#000" stroke-width="1.6"/>
<path d="M1652.20,1571.62V1576.94M1647.95,1571.62H1656.45M1647.95,1576.94H1656.45" stroke="#000" stroke-width="1.8" fill="none"/>
<rect x="1678.10" y="1633.60" width="13.60" height="65.70" fill="#fff" stroke="#000" stroke-width="1.6"/>
<path d="M1684.90,1629.47V1636.12M1680.65,1629.47H1689.15M1680.65,1636.12H1689.15" stroke="#000" stroke-width="1.8" fill="none"/>
<rect x="1695.60" y="1580.40" width="13.60" height="118.90" fill="#949494" stroke="#1c1c1c" stroke-width="1.6"/>
<rect x="1696.85" y="1581.65" width="11.10" height="116.60" fill="none" stroke="#a6a6a6" stroke-width="0.9"/>
<path d="M1702.40,1576.27V1582.92M1698.15,1576.27H1706.65M1698.15,1582.92H1706.65" stroke="#000" stroke-width="1.8" fill="none"/>
<rect x="1713.20" y="1499.93" width="13.60" height="199.36" fill="#000" stroke="#000" stroke-width="1.6"/>
<path d="M1720.00,1497.14V1501.13M1715.75,1497.14H1724.25M1715.75,1501.13H1724.25" stroke="#000" stroke-width="1.8" fill="none"/>
<rect x="1745.90" y="1634.93" width="13.60" height="64.37" fill="#fff" stroke="#000" stroke-width="1.6"/>
<path d="M1752.70,1632.80V1635.46M1748.45,1632.80H1756.95M1748.45,1635.46H1756.95" stroke="#000" stroke-width="1.8" fill="none"/>
<rect x="1763.40" y="1622.29" width="13.60" height="77.01" fill="#949494" stroke="#1c1c1c" stroke-width="1.6"/>
<rect x="1764.65" y="1623.54" width="11.10" height="74.71" fill="none" stroke="#a6a6a6" stroke-width="0.9"/>
<path d="M1770.20,1614.85V1628.14M1765.95,1614.85H1774.45M1765.95,1628.14H1774.45" stroke="#000" stroke-width="1.8" fill="none"/>
<rect x="1781.00" y="1575.74" width="13.60" height="123.56" fill="#000" stroke="#000" stroke-width="1.6"/>
<path d="M1787.80,1570.29V1579.60M1783.55,1570.29H1792.05M1783.55,1579.60H1792.05" stroke="#000" stroke-width="1.8" fill="none"/>
<rect x="1813.70" y="1636.92" width="13.60" height="62.37" fill="#fff" stroke="#000" stroke-width="1.6"/>
<path d="M1820.50,1632.80V1639.45M1816.25,1632.80H1824.75M1816.25,1639.45H1824.75" stroke="#000" stroke-width="1.8" fill="none"/>
<rect x="1831.20" y="1621.63" width="13.60" height="77.67" fill="#949494" stroke="#1c1c1c" stroke-width="1.6"/>
<rect x="1832.45" y="1622.88" width="11.10" height="75.37" fill="none" stroke="#a6a6a6" stroke-width="0.9"/>
<path d="M1838.00,1616.17V1625.48M1833.75,1616.17H1842.25M1833.75,1625.48H1842.25" stroke="#000" stroke-width="1.8" fill="none"/>
<rect x="1848.80" y="1616.31" width="13.60" height="82.99" fill="#000" stroke="#000" stroke-width="1.6"/>
<path d="M1855.60,1611.52V1619.50M1851.35,1611.52H1859.85M1851.35,1619.50H1859.85" stroke="#000" stroke-width="1.8" fill="none"/>
<g transform="translate(886.80,1719.30) rotate(-45)">
<text transform="translate(0,9.40) scale(1,1.045)" font-size="25" text-anchor="end">WT</text>
</g>
<g transform="translate(954.60,1719.30) rotate(-45)">
<text transform="translate(0,9.40) scale(1,1.045)" font-size="25" text-anchor="end">L7V</text>
</g>
<g transform="translate(1022.40,1719.30) rotate(-45)">
<text transform="translate(0,9.40) scale(1,1.045)" font-size="25" text-anchor="end">G11E</text>
</g>
<g transform="translate(1090.20,1719.30) rotate(-45)">
<text transform="translate(0,9.40) scale(1,1.045)" font-size="25" text-anchor="end">G11R</text>
</g>
<g transform="translate(1158.00,1719.30) rotate(-45)">
<text transform="translate(0,9.40) scale(1,1.045)" font-size="25" text-anchor="end">L62P</text>
</g>
<g transform="translate(1225.80,1719.30) rotate(-45)">
<text transform="translate(0,9.40) scale(1,1.045)" font-size="25" text-anchor="end">R71T</text>
</g>
<g transform="translate(1293.60,1719.30) rotate(-45)">
<text transform="translate(0,9.40) scale(1,1.045)" font-size="25" text-anchor="end">S99F</text>
</g>
<g transform="translate(1361.40,1719.30) rotate(-45)">
<text transform="translate(0,9.40) scale(1,1.045)" font-size="25" text-anchor="end">Y178del</text>
</g>
<g transform="translate(1429.20,1719.30) rotate(-45)">
<text transform="translate(0,9.40) scale(1,1.045)" font-size="25" text-anchor="end">R248W</text>
</g>
<g transform="translate(1497.00,1719.30) rotate(-45)">
<text transform="translate(0,9.40) scale(1,1.045)" font-size="25" text-anchor="end">T272del</text>
</g>
<g transform="translate(1564.80,1719.30) rotate(-45)">
<text transform="translate(0,9.40) scale(1,1.045)" font-size="25" text-anchor="end">D303V</text>
</g>
<g transform="translate(1632.60,1719.30) rotate(-45)">
<text transform="translate(0,9.40) scale(1,1.045)" font-size="25" text-anchor="end">D308G</text>
</g>
<g transform="translate(1700.40,1719.30) rotate(-45)">
<text transform="translate(0,9.40) scale(1,1.045)" font-size="25" text-anchor="end">S375<tspan dx="0.8" dy="-2.5" font-size="20.50">*</tspan></text>
</g>
<g transform="translate(1768.20,1719.30) rotate(-45)">
<text transform="translate(0,9.40) scale(1,1.045)" font-size="25" text-anchor="end" font-style="italic">R435<tspan dx="0.8" dy="-2.5" font-size="20.50">*</tspan></text>
</g>
<g transform="translate(1836.00,1719.30) rotate(-45)">
<text transform="translate(0,9.40) scale(1,1.045)" font-size="25" text-anchor="end">T441T</text>
</g>
<polygon points="877.48,1706.89 898.12,1728.34 864.12,1763.31 843.48,1741.86" fill="none" stroke="#000" stroke-width="2.2" stroke-linejoin="miter"/>
<polygon points="1151.99,1707.39 1171.03,1725.26 1124.31,1773.01 1105.27,1755.14" fill="none" stroke="#000" stroke-width="2.2" stroke-linejoin="miter"/>
<polygon points="1354.81,1707.31 1375.41,1726.31 1304.59,1797.69 1283.99,1778.69" fill="none" stroke="#000" stroke-width="2.2" stroke-linejoin="miter"/>
<polygon points="1558.27,1707.04 1577.59,1725.59 1517.33,1787.86 1498.01,1769.31" fill="none" stroke="#000" stroke-width="2.2" stroke-linejoin="miter"/>
<polygon points="1624.18,1709.14 1643.49,1727.69 1583.72,1789.76 1564.41,1771.21" fill="none" stroke="#000" stroke-width="2.2" stroke-linejoin="miter"/>
<polygon points="1694.13,1707.07 1712.56,1725.53 1660.77,1779.33 1642.34,1760.87" fill="none" stroke="#000" stroke-width="2.2" stroke-linejoin="miter"/>
<polyline points="870.00,1577.80 870.00,1462.80 906.40,1462.80 906.40,1477.10" fill="none" stroke="#000" stroke-width="2.3" stroke-linejoin="miter"/>
<text transform="translate(860.40,1454.40) scale(1,1.09)" font-size="18.7" text-anchor="start">p &lt; 0.01</text>
<polyline points="1143.25,1569.50 1143.25,1473.25 1175.00,1473.25 1175.00,1480.75" fill="none" stroke="#000" stroke-width="2.3" stroke-linejoin="miter"/>
<text transform="translate(1125.00,1467.80) scale(1,1.09)" font-size="18.7" text-anchor="start">p &lt; 0.01</text>
<polyline points="1345.00,1567.00 1345.00,1422.50 1381.25,1422.50 1381.25,1436.00" fill="none" stroke="#000" stroke-width="2.3" stroke-linejoin="miter"/>
<text transform="translate(1327.30,1412.10) scale(1,1.09)" font-size="18.7" text-anchor="start">p &lt; 0.01</text>
<polyline points="1548.00,1593.75 1548.00,1536.25 1584.50,1536.25 1584.50,1545.00" fill="none" stroke="#000" stroke-width="2.3" stroke-linejoin="miter"/>
<text transform="translate(1529.25,1530.30) scale(1,1.09)" font-size="18.7" text-anchor="start">p &lt; 0.01</text>
<polyline points="1611.25,1555.00 1611.25,1489.25 1652.50,1489.25 1652.50,1500.00" fill="none" stroke="#000" stroke-width="2.3" stroke-linejoin="miter"/>
<text transform="translate(1598.00,1480.80) scale(1,1.09)" font-size="18.7" text-anchor="start">p &lt; 0.01</text>
<polyline points="1686.75,1537.00 1686.75,1478.75 1718.75,1478.75 1718.75,1485.50" fill="none" stroke="#000" stroke-width="2.3" stroke-linejoin="miter"/>
<text transform="translate(1680.00,1467.05) scale(1,1.09)" font-size="18.7" text-anchor="start">p &lt; 0.01</text>
<text transform="translate(1688.00,1364.80) scale(1,1.045)" font-size="24.9" text-anchor="start">TRAIL (ng/mL)</text>
<rect x="1774.90" y="1380.00" width="27.20" height="17.20" fill="#fff" stroke="#000" stroke-width="1.8"/>
<text transform="translate(1819.60,1396.80) scale(1,1.045)" font-size="24.5" text-anchor="start">0</text>
<rect x="1774.90" y="1404.80" width="27.20" height="17.20" fill="#949494" stroke="#1c1c1c" stroke-width="1.8"/>
<rect x="1776.30" y="1406.20" width="24.40" height="14.40" fill="none" stroke="#a6a6a6" stroke-width="1"/>
<text transform="translate(1819.60,1422.10) scale(1,1.045)" font-size="24.5" text-anchor="start">50</text>
<rect x="1774.90" y="1430.20" width="27.20" height="17.20" fill="#000" stroke="#000" stroke-width="1.8"/>
<text transform="translate(1819.60,1448.20) scale(1,1.045)" font-size="24.5" text-anchor="start">200</text>
<text transform="translate(786.40,1561.80) rotate(-90) scale(1,1.045)" font-size="25" text-anchor="middle">CXCL1 mRNA</text>
<text transform="translate(818.10,1561.80) rotate(-90) scale(1,1.045)" font-size="25" text-anchor="middle">(Fold rel. to no TRAIL)</text>
<text transform="translate(1178.20,1364.80) scale(1,1.045)" font-size="28.6" text-anchor="start">DOX</text>
<line x1="1257.85" y1="1357.00" x2="1307.00" y2="1357.00" stroke="#000" stroke-width="4.5" stroke-linecap="round"/>
<polygon points="1306.00,1348.70 1326.00,1357.00 1306.00,1365.30" fill="#000"/>
<text transform="translate(1338.20,1364.80) scale(1,1.045)" font-size="28.5" text-anchor="start">DOX + TRAIL (6 hr)</text>
<polyline points="865.20,1800.40 865.20,1808.30 1849.90,1808.30 1849.90,1800.40" fill="none" stroke="#000" stroke-width="2.4" stroke-linejoin="miter"/>
<line x1="1363.70" y1="1808.30" x2="1363.70" y2="1819.30" stroke="#000" stroke-width="2.4" stroke-linecap="butt"/>
<text transform="translate(1379.65,1847.70) scale(1,1.045)" font-size="25" text-anchor="middle">HeLa-CASP8 KO</text>
<line x1="142.90" y1="2058.20" x2="142.90" y2="2359.30" stroke="#000" stroke-width="2.6" stroke-linecap="butt"/>
<line x1="134.00" y1="2358.00" x2="142.90" y2="2358.00" stroke="#000" stroke-width="2.6" stroke-linecap="butt"/>
<text transform="translate(129.60,2369.10) scale(1,1.045)" font-size="27.5" text-anchor="end">0</text>
<line x1="134.00" y1="2283.07" x2="142.90" y2="2283.07" stroke="#000" stroke-width="2.6" stroke-linecap="butt"/>
<text transform="translate(129.60,2294.17) scale(1,1.045)" font-size="27.5" text-anchor="end">500</text>
<line x1="134.00" y1="2208.15" x2="142.90" y2="2208.15" stroke="#000" stroke-width="2.6" stroke-linecap="butt"/>
<text transform="translate(129.60,2219.25) scale(1,1.045)" font-size="27.5" text-anchor="end">1000</text>
<line x1="134.00" y1="2133.22" x2="142.90" y2="2133.22" stroke="#000" stroke-width="2.6" stroke-linecap="butt"/>
<text transform="translate(129.60,2144.32) scale(1,1.045)" font-size="27.5" text-anchor="end">1500</text>
<line x1="134.00" y1="2058.30" x2="142.90" y2="2058.30" stroke="#000" stroke-width="2.6" stroke-linecap="butt"/>
<text transform="translate(129.60,2069.40) scale(1,1.045)" font-size="27.5" text-anchor="end">2000</text>
<line x1="134.00" y1="2358.00" x2="423.90" y2="2358.00" stroke="#000" stroke-width="2.6" stroke-linecap="butt"/>
<line x1="211.40" y1="2358.00" x2="211.40" y2="2365.50" stroke="#000" stroke-width="2.6" stroke-linecap="butt"/>
<line x1="354.20" y1="2358.00" x2="354.20" y2="2365.50" stroke="#000" stroke-width="2.6" stroke-linecap="butt"/>
<rect x="166.10" y="2252.56" width="42.40" height="105.44" fill="#fff" stroke="#000" stroke-width="1.6"/>
<path d="M187.30,2247.56V2255.95M176.30,2247.56H198.30M176.30,2255.95H198.30" stroke="#000" stroke-width="1.8" fill="none"/>
<rect x="215.50" y="2161.15" width="42.40" height="196.85" fill="#000" stroke="#000" stroke-width="1.6"/>
<path d="M236.70,2154.35V2166.34M225.70,2154.35H247.70M225.70,2166.34H247.70" stroke="#000" stroke-width="1.8" fill="none"/>
<rect x="308.90" y="2270.09" width="42.40" height="87.91" fill="#fff" stroke="#000" stroke-width="1.6"/>
<path d="M330.10,2265.99V2272.59M319.10,2265.99H341.10M319.10,2272.59H341.10" stroke="#000" stroke-width="1.8" fill="none"/>
<rect x="358.30" y="2131.63" width="42.40" height="226.37" fill="#000" stroke="#000" stroke-width="1.6"/>
<path d="M379.50,2125.88V2135.77M368.50,2125.88H390.50M368.50,2135.77H390.50" stroke="#000" stroke-width="1.8" fill="none"/>
<text transform="translate(211.40,2396.00) scale(1,1.045)" font-size="28.5" text-anchor="middle">WT</text>
<text transform="translate(354.20,2396.00) scale(1,1.045)" font-size="28.5" text-anchor="middle">D303G</text>
<polyline points="187.70,2165.20 187.70,2104.10 235.60,2104.10 235.60,2124.80" fill="none" stroke="#000" stroke-width="2.3" stroke-linejoin="miter"/>
<text transform="translate(176.50,2086.10) scale(1,1.09)" font-size="23.2" text-anchor="start">p &lt; 0.01</text>
<polyline points="328.70,2142.60 328.70,2082.00 378.50,2082.00 378.50,2107.60" fill="none" stroke="#000" stroke-width="2.3" stroke-linejoin="miter"/>
<text transform="translate(309.90,2063.90) scale(1,1.09)" font-size="23.2" text-anchor="start">p &lt; 0.01</text>
<rect x="469.20" y="2045.40" width="31.20" height="20.00" fill="#fff" stroke="#000" stroke-width="1.8"/>
<text transform="translate(519.20,2065.80) scale(1,1.045)" font-size="28.2" text-anchor="start">Veh</text>
<rect x="469.20" y="2096.20" width="31.20" height="20.00" fill="#000" stroke="#000" stroke-width="1.8"/>
<text transform="translate(519.20,2116.70) scale(1,1.045)" font-size="28.2" text-anchor="start">TRAIL</text>
<text transform="translate(519.20,2150.80) scale(1,1.045)" font-size="28.2" text-anchor="start">(200 ng/mL)</text>
<text transform="translate(48.80,2204.50) rotate(-90) scale(1,1.045)" font-size="32.5" text-anchor="middle">IL-8 (pg/mL)</text>
<text transform="translate(64.30,1991.80) scale(1,1.045)" font-size="32.4" text-anchor="start">DOX</text>
<line x1="152.25" y1="1981.70" x2="181.40" y2="1981.70" stroke="#000" stroke-width="4.5" stroke-linecap="round"/>
<polygon points="180.40,1973.40 200.40,1981.70 180.40,1990.00" fill="#000"/>
<text transform="translate(213.90,1991.90) scale(1,1.045)" font-size="32.1" text-anchor="start">DOX + Veh or TRAIL (12 hr)</text>
<polyline points="188.70,2414.20 188.70,2422.30 400.20,2422.30 400.20,2414.20" fill="none" stroke="#000" stroke-width="2.4" stroke-linejoin="miter"/>
<line x1="293.50" y1="2422.30" x2="293.50" y2="2432.00" stroke="#000" stroke-width="2.4" stroke-linecap="butt"/>
<text transform="translate(290.40,2469.80) scale(1,1.045)" font-size="28.5" text-anchor="middle">PE/CA-PJ49-CASP8 KO</text>
</svg></body></html>
